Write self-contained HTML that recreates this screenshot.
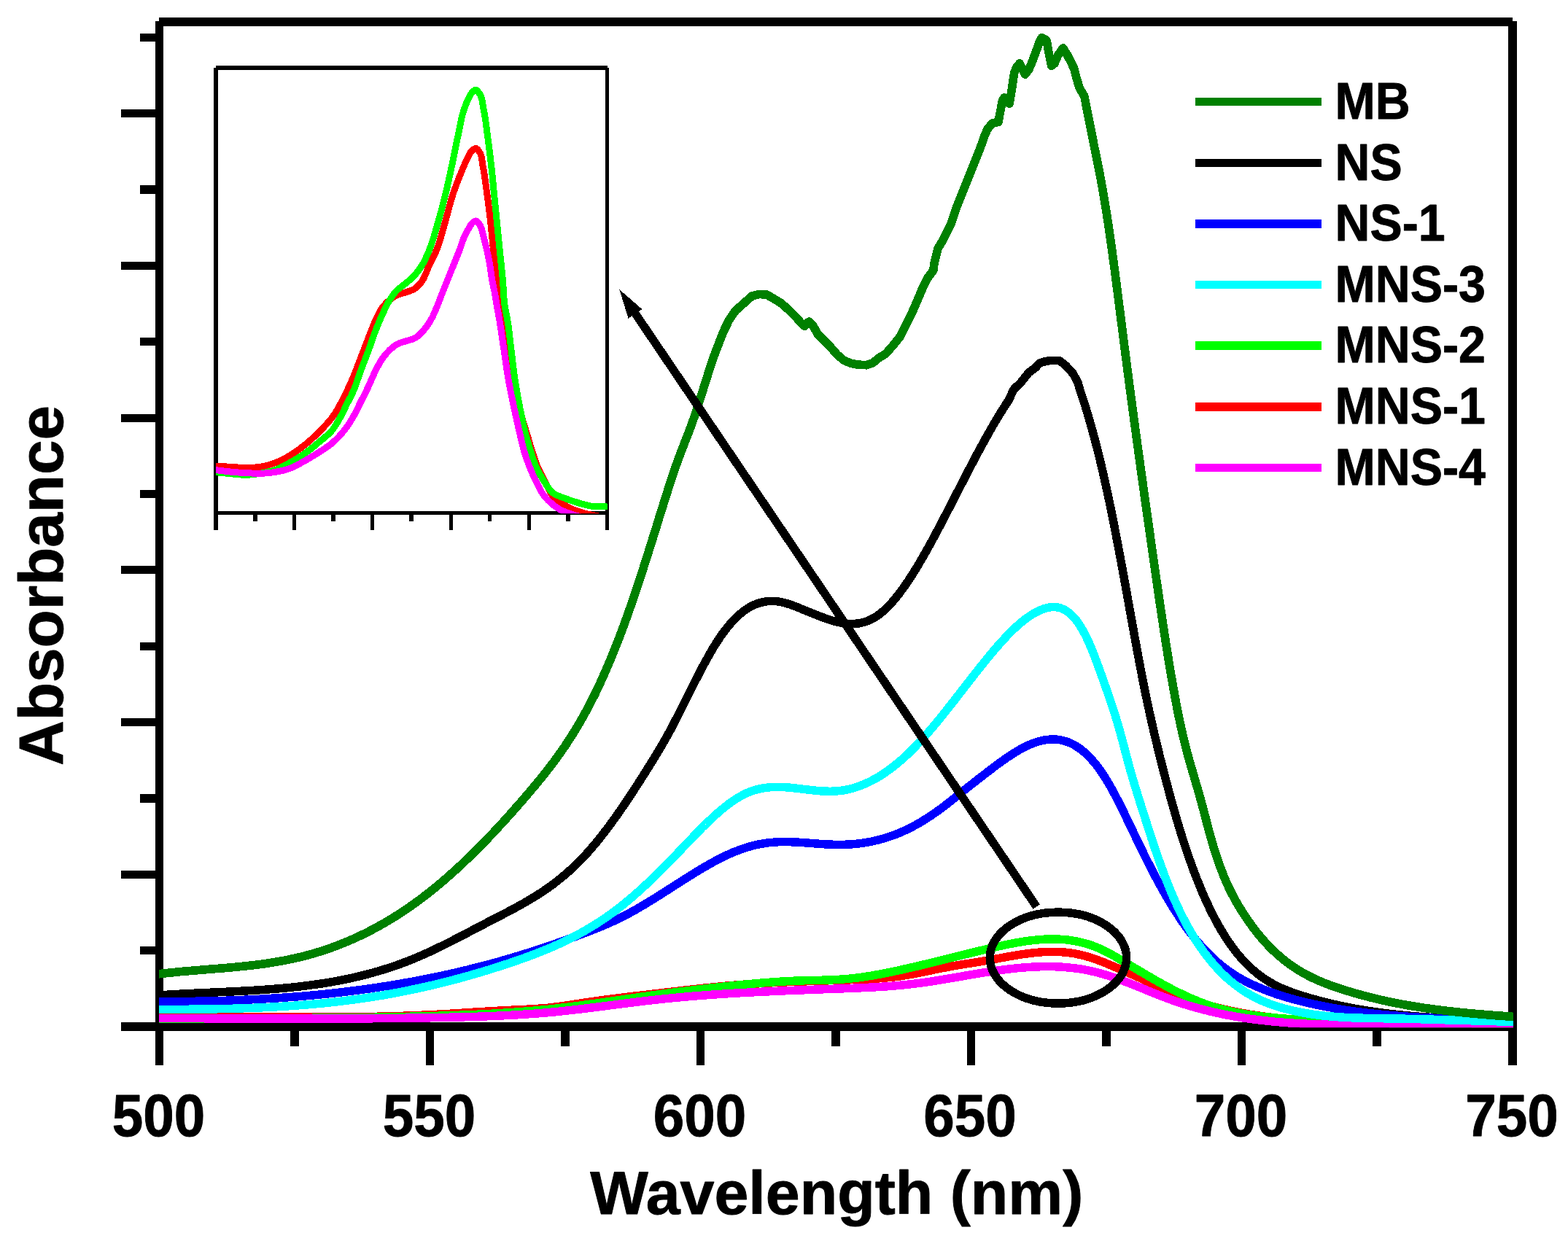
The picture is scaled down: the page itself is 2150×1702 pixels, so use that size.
<!DOCTYPE html>
<html lang="en">
<head>
<meta charset="utf-8">
<title>Absorbance vs Wavelength</title>
<style>
html,body{margin:0;padding:0;background:#fff;}
body{width:2150px;height:1702px;overflow:hidden;}
svg{display:block;}
text{font-family:"Liberation Sans",Arial,Helvetica,sans-serif;font-weight:bold;fill:#000;}
.tick{font-size:81.5px;text-anchor:middle;}
.leg{font-size:69.6px;}
.title{font-size:84px;text-anchor:middle;}
.ytitle{font-size:85.5px;text-anchor:middle;}
.c{fill:none;stroke-linejoin:round;stroke-linecap:butt;}
</style>
</head>
<body>
<svg xmlns="http://www.w3.org/2000/svg" width="2150" height="1702" viewBox="0 0 2150 1702">
<rect width="2150" height="1702" fill="#fff"/>

<g id="frame" fill="#000" shape-rendering="crispEdges">
<rect x="213" y="29" width="11" height="1384.5"/>
<rect x="2068" y="29" width="12" height="1432"/>
<rect x="218" y="23.5" width="1856" height="12.5"/>
<rect x="166" y="1402" width="1914" height="11.700000000000045"/>
<rect x="192" y="45.6" width="21" height="11.199999999999996"/>
<rect x="166" y="150.1" width="47" height="11.0"/>
<rect x="192" y="254.3" width="21" height="11.199999999999989"/>
<rect x="166" y="358.8" width="47" height="11.0"/>
<rect x="192" y="463.1" width="21" height="11.199999999999989"/>
<rect x="166" y="567.6" width="47" height="11.0"/>
<rect x="192" y="671.8" width="21" height="11.200000000000045"/>
<rect x="166" y="776.3" width="47" height="11.0"/>
<rect x="192" y="880.6" width="21" height="11.199999999999932"/>
<rect x="166" y="985.0" width="47" height="11.0"/>
<rect x="192" y="1089.3" width="21" height="11.200000000000045"/>
<rect x="166" y="1193.8" width="47" height="11.0"/>
<rect x="192" y="1298.0" width="21" height="11.200000000000045"/>
<rect x="213.0" y="1413" width="11.0" height="48"/>
<rect x="584.0" y="1413" width="11.0" height="48"/>
<rect x="955.0" y="1413" width="11.0" height="48"/>
<rect x="1325.5" y="1413" width="11.0" height="48"/>
<rect x="1697.0" y="1413" width="11.0" height="48"/>
<rect x="397.5" y="1413" width="12.0" height="21.59999999999991"/>
<rect x="768.8" y="1413" width="12.0" height="21.59999999999991"/>
<rect x="1139.8" y="1413" width="12.0" height="21.59999999999991"/>
<rect x="1511" y="1413" width="12" height="21.59999999999991"/>
<rect x="1882" y="1413" width="12" height="21.59999999999991"/>
</g>
<defs><clipPath id="pc"><rect x="218" y="30" width="1857" height="1379.2"/></clipPath><clipPath id="ic"><rect x="296" y="91" width="537" height="613.2"/></clipPath></defs>
<g id="curves" clip-path="url(#pc)" shape-rendering="crispEdges">
<path class="c" d="M210,1365.6C213,1365.4 216,1365.1 219,1364.9C222,1364.7 225,1364.5 228,1364.3C230.9,1364.1 233.9,1364 236.9,1363.8C239.9,1363.6 242.9,1363.5 245.9,1363.3C248.9,1363.1 251.9,1363 254.9,1362.8C257.9,1362.7 260.9,1362.5 263.9,1362.4C266.9,1362.2 269.9,1362.1 272.9,1362C275.9,1361.8 278.9,1361.7 281.9,1361.5C284.9,1361.4 287.9,1361.3 290.9,1361.1C293.9,1361 296.9,1360.9 299.9,1360.7C302.9,1360.6 305.9,1360.5 308.8,1360.3C311.8,1360.2 314.8,1360 317.8,1359.9C320.8,1359.8 323.8,1359.6 326.8,1359.4C329.8,1359.3 332.8,1359.1 335.8,1359C338.8,1358.8 341.8,1358.6 344.8,1358.5C347.8,1358.3 350.8,1358.1 353.8,1357.9C356.8,1357.7 359.8,1357.5 362.8,1357.3C365.8,1357.1 368.8,1356.9 371.7,1356.6C374.7,1356.4 377.7,1356.2 380.7,1355.9C383.7,1355.7 386.7,1355.4 389.7,1355.1C392.7,1354.8 395.7,1354.6 398.7,1354.3C401.6,1353.9 404.6,1353.6 407.6,1353.3C410.6,1353 413.6,1352.6 416.5,1352.3C419.5,1351.9 422.5,1351.5 425.5,1351.1C428.5,1350.7 431.4,1350.3 434.4,1349.9C437.4,1349.5 440.3,1349 443.3,1348.6C446.3,1348.1 449.2,1347.6 452.2,1347.1C455.2,1346.6 458.1,1346.1 461.1,1345.5C464,1345 467,1344.4 469.9,1343.8C472.9,1343.2 475.8,1342.6 478.8,1342C481.7,1341.4 484.6,1340.7 487.6,1340C490.5,1339.4 493.4,1338.7 496.3,1337.9C499.2,1337.2 502.2,1336.5 505.1,1335.7C508,1334.9 510.9,1334.1 513.8,1333.3C516.7,1332.5 519.5,1331.7 522.4,1330.8C525.3,1329.9 528.2,1329 531,1328.1C533.9,1327.2 536.8,1326.2 539.6,1325.3C542.4,1324.3 545.3,1323.3 548.1,1322.3C550.9,1321.2 553.8,1320.2 556.6,1319.1C559.4,1318 562.2,1316.9 565,1315.8C567.8,1314.7 570.6,1313.5 573.3,1312.3C576.1,1311.2 578.9,1310 581.6,1308.7C584.4,1307.5 587.1,1306.2 589.8,1305C592.6,1303.7 595.3,1302.4 598,1301.1C600.7,1299.8 603.4,1298.5 606.1,1297.2C608.8,1295.9 611.5,1294.5 614.2,1293.2C616.9,1291.8 619.5,1290.5 622.2,1289.1C624.9,1287.7 627.6,1286.4 630.2,1285C632.9,1283.6 635.6,1282.2 638.2,1280.8C640.9,1279.4 643.6,1278 646.2,1276.6C648.9,1275.2 651.5,1273.9 654.2,1272.5C656.8,1271.1 659.5,1269.7 662.2,1268.3C664.8,1266.9 667.5,1265.5 670.1,1264.1C672.8,1262.8 675.5,1261.4 678.1,1260C680.8,1258.6 683.5,1257.3 686.1,1255.9C688.8,1254.5 691.5,1253.1 694.1,1251.7C696.8,1250.3 699.4,1248.9 702.1,1247.5C704.7,1246.1 707.4,1244.7 710,1243.2C712.7,1241.8 715.3,1240.3 717.9,1238.8C720.5,1237.3 723.1,1235.8 725.7,1234.3C728.3,1232.7 730.9,1231.2 733.5,1229.6C736,1228 738.6,1226.3 741.1,1224.7C743.7,1223 746.2,1221.4 748.7,1219.6C751.1,1217.9 753.6,1216.2 756.1,1214.4C758.5,1212.6 760.9,1210.8 763.3,1208.9C765.7,1207 768.1,1205.1 770.4,1203.2C772.8,1201.3 775.1,1199.3 777.4,1197.3C779.7,1195.3 781.9,1193.3 784.2,1191.2C786.4,1189.2 788.6,1187.1 790.8,1184.9C792.9,1182.8 795.1,1180.7 797.2,1178.5C799.3,1176.3 801.4,1174.1 803.4,1171.8C805.5,1169.6 807.5,1167.3 809.5,1165C811.5,1162.7 813.5,1160.4 815.4,1158.1C817.4,1155.7 819.3,1153.4 821.2,1151C823.1,1148.7 825,1146.3 826.8,1143.9C828.7,1141.5 830.5,1139.1 832.4,1136.7C834.2,1134.2 836,1131.8 837.8,1129.4C839.6,1126.9 841.3,1124.5 843.1,1122C844.9,1119.6 846.6,1117.1 848.3,1114.6C850.1,1112.1 851.8,1109.7 853.5,1107.2C855.2,1104.7 856.9,1102.2 858.6,1099.7C860.3,1097.2 861.9,1094.7 863.6,1092.2C865.3,1089.6 866.9,1087.1 868.6,1084.6C870.2,1082.1 871.9,1079.5 873.5,1077C875.1,1074.5 876.8,1071.9 878.4,1069.4C880,1066.9 881.6,1064.3 883.2,1061.8C884.8,1059.2 886.4,1056.7 888,1054.1C889.6,1051.6 891.2,1049 892.8,1046.5C894.4,1043.9 896,1041.3 897.5,1038.8C899.1,1036.2 900.7,1033.6 902.2,1031C903.8,1028.4 905.3,1025.8 906.9,1023.2C908.4,1020.6 909.9,1018 911.4,1015.3C912.9,1012.7 914.4,1010.1 915.9,1007.4C917.3,1004.7 918.8,1002.1 920.2,999.4C921.7,996.7 923.1,994 924.5,991.3C925.8,988.6 927.2,985.9 928.6,983.3C930,980.6 931.3,977.9 932.7,975.2C934,972.5 935.4,969.8 936.7,967.1C938.1,964.4 939.4,961.7 940.7,959C942.1,956.4 943.4,953.7 944.8,951C946.1,948.3 947.4,945.6 948.8,943C950.1,940.3 951.5,937.6 952.8,935C954.2,932.3 955.5,929.6 956.9,927C958.3,924.3 959.6,921.7 961,919.1C962.4,916.4 963.8,913.8 965.2,911.2C966.6,908.6 968,906 969.5,903.4C970.9,900.8 972.3,898.2 973.8,895.7C975.3,893.1 976.8,890.6 978.3,888C979.8,885.5 981.4,883 983,880.6C984.6,878.1 986.2,875.6 987.8,873.2C989.5,870.8 991.2,868.4 992.9,866.1C994.7,863.8 996.5,861.5 998.3,859.2C1000.2,857 1002.1,854.8 1004,852.6C1006,850.5 1008,848.4 1010.1,846.4C1012.2,844.4 1014.3,842.4 1016.6,840.6C1018.8,838.8 1021.1,837 1023.6,835.4C1026,833.8 1028.5,832.3 1031,831C1033.6,829.7 1036.3,828.6 1039.1,827.6C1041.8,826.7 1044.7,825.9 1047.6,825.4C1050.5,824.9 1053.5,824.5 1056.4,824.4C1059.4,824.3 1062.4,824.5 1065.4,824.8C1068.4,825.1 1071.4,825.7 1074.4,826.4C1077.3,827.1 1080.2,828 1083.1,828.9C1086,829.9 1088.8,831 1091.6,832.1C1094.4,833.2 1097.2,834.4 1100,835.5C1102.8,836.7 1105.5,837.8 1108.3,838.9C1111.1,840.1 1113.9,841.2 1116.7,842.3C1119.4,843.4 1122.2,844.5 1125,845.6C1127.8,846.6 1130.6,847.7 1133.4,848.7C1136.2,849.6 1139.1,850.6 1141.9,851.4C1144.8,852.2 1147.7,853 1150.6,853.6C1153.5,854.2 1156.4,854.7 1159.4,855.1C1162.3,855.4 1165.3,855.6 1168.3,855.6C1171.3,855.5 1174.3,855.3 1177.3,854.9C1180.3,854.4 1183.3,853.7 1186.2,852.8C1189.1,851.9 1192,850.7 1194.8,849.3C1197.6,847.9 1200.3,846.3 1202.8,844.6C1205.4,842.8 1207.9,840.9 1210.3,838.8C1212.6,836.8 1214.9,834.7 1217.1,832.5C1219.3,830.3 1221.4,828 1223.4,825.7C1225.5,823.4 1227.5,821 1229.4,818.6C1231.3,816.2 1233.2,813.8 1235,811.3C1236.9,808.8 1238.7,806.4 1240.4,803.8C1242.2,801.3 1243.9,798.8 1245.6,796.3C1247.3,793.7 1248.9,791.2 1250.6,788.6C1252.2,786 1253.8,783.5 1255.4,780.9C1257,778.3 1258.5,775.7 1260.1,773.1C1261.6,770.5 1263.2,767.8 1264.7,765.2C1266.2,762.6 1267.7,760 1269.2,757.3C1270.7,754.7 1272.1,752.1 1273.6,749.4C1275.1,746.8 1276.5,744.1 1278,741.5C1279.4,738.8 1280.8,736.2 1282.3,733.5C1283.7,730.8 1285.1,728.2 1286.5,725.5C1287.9,722.9 1289.3,720.2 1290.7,717.5C1292.1,714.9 1293.5,712.2 1294.9,709.5C1296.3,706.8 1297.7,704.2 1299,701.5C1300.4,698.8 1301.8,696.2 1303.2,693.5C1304.6,690.8 1305.9,688.2 1307.3,685.5C1308.7,682.8 1310,680.1 1311.4,677.5C1312.8,674.8 1314.2,672.1 1315.5,669.5C1316.9,666.8 1318.3,664.1 1319.6,661.5C1321,658.8 1322.4,656.1 1323.8,653.5C1325.1,650.8 1326.5,648.2 1327.9,645.5C1329.3,642.9 1330.7,640.2 1332,637.6C1333.4,634.9 1334.8,632.3 1336.2,629.6C1337.6,627 1339,624.3 1340.4,621.7C1341.8,619.1 1343.2,616.4 1344.7,613.8C1346.1,611.2 1347.5,608.6 1348.9,606C1350.4,603.3 1351.8,600.7 1353.3,598.1C1354.7,595.5 1356.2,592.9 1357.7,590.3C1359.1,587.8 1360.6,585.2 1362.1,582.6C1363.6,580 1365.1,577.5 1366.7,574.9C1368.2,572.4 1369.7,569.9 1371.3,567.3C1372.8,564.8 1374.4,562.3 1376,559.8C1377.6,557.3 1379.2,554.8 1380.8,552.3C1381.5,551.3 1382.2,550.3 1382.9,549.2C1386,544.4 1387,538.3 1390.4,533.7L1400.5,523.7L1410.5,511.1L1420.6,503.5L1425.5,498L1432,496L1439.5,494.6L1452.7,494.6L1457.5,498.2L1461.7,501.7L1467,507.5L1471.2,512.3L1475,519L1477.6,523.9C1479,527 1479.5,530.4 1480.5,533.7C1481.4,536.6 1482.4,539.4 1483.4,542.3C1484.3,545.2 1485.2,548.1 1486.2,551C1487.1,553.9 1488,556.8 1488.9,559.7C1489.8,562.6 1490.6,565.5 1491.5,568.4C1492.4,571.4 1493.2,574.3 1494.1,577.2C1494.9,580.1 1495.8,583 1496.6,586C1497.4,588.9 1498.2,591.8 1499,594.8C1499.8,597.7 1500.6,600.6 1501.4,603.6C1502.2,606.5 1502.9,609.5 1503.7,612.4C1504.4,615.3 1505.2,618.3 1505.9,621.2C1506.7,624.2 1507.4,627.1 1508.1,630.1C1508.8,633.1 1509.5,636 1510.2,639C1510.9,641.9 1511.6,644.9 1512.3,647.8C1513,650.8 1513.7,653.8 1514.3,656.7C1515,659.7 1515.6,662.6 1516.3,665.6C1516.9,668.6 1517.6,671.5 1518.2,674.5C1518.9,677.4 1519.5,680.4 1520.1,683.4C1520.7,686.3 1521.4,689.3 1522,692.3C1522.6,695.2 1523.2,698.2 1523.8,701.1C1524.4,704.1 1525,707.1 1525.6,710C1526.2,713 1526.8,716 1527.4,718.9C1528,721.9 1528.5,724.8 1529.1,727.8C1529.7,730.8 1530.3,733.7 1530.8,736.7C1531.4,739.7 1532,742.6 1532.5,745.6C1533.1,748.6 1533.7,751.5 1534.2,754.5C1534.8,757.5 1535.3,760.4 1535.9,763.4C1536.4,766.3 1537,769.3 1537.5,772.3C1538.1,775.2 1538.6,778.2 1539.2,781.2C1539.7,784.1 1540.2,787.1 1540.8,790C1541.3,793 1541.9,796 1542.4,798.9C1542.9,801.9 1543.5,804.8 1544,807.8C1544.5,810.7 1545.1,813.7 1545.6,816.7C1546.1,819.6 1546.7,822.6 1547.2,825.5C1547.7,828.5 1548.2,831.4 1548.8,834.4C1549.3,837.3 1549.8,840.3 1550.4,843.2C1550.9,846.2 1551.4,849.1 1552,852.1C1552.5,855 1553,858 1553.6,860.9C1554.1,863.9 1554.6,866.8 1555.2,869.8C1555.7,872.7 1556.2,875.6 1556.8,878.6C1557.3,881.5 1557.9,884.5 1558.4,887.4C1558.9,890.3 1559.5,893.3 1560,896.2C1560.6,899.2 1561.1,902.1 1561.7,905C1562.2,908 1562.8,910.9 1563.3,913.8C1563.9,916.7 1564.5,919.7 1565,922.6C1565.6,925.5 1566.2,928.4 1566.7,931.4C1567.3,934.3 1567.9,937.2 1568.5,940.1C1569.1,943 1569.6,945.9 1570.2,948.9C1570.8,951.8 1571.4,954.7 1572,957.6C1572.6,960.5 1573.2,963.4 1573.9,966.3C1574.5,969.2 1575.1,972.1 1575.7,975C1576.4,977.9 1577,980.8 1577.7,983.7C1578.3,986.6 1578.9,989.5 1579.6,992.4C1580.3,995.3 1580.9,998.2 1581.6,1001.1C1582.3,1004 1582.9,1006.9 1583.6,1009.8C1584.3,1012.7 1585,1015.6 1585.7,1018.5C1586.4,1021.3 1587.1,1024.2 1587.8,1027.1C1588.5,1030 1589.2,1032.9 1589.9,1035.8C1590.6,1038.7 1591.4,1041.6 1592.1,1044.5C1592.8,1047.4 1593.6,1050.3 1594.3,1053.1C1595,1056 1595.8,1058.9 1596.5,1061.8C1597.3,1064.7 1598,1067.6 1598.8,1070.4C1599.5,1073.3 1600.3,1076.2 1601.1,1079.1C1601.8,1082 1602.6,1084.8 1603.4,1087.7C1604.2,1090.6 1604.9,1093.5 1605.7,1096.3C1606.5,1099.2 1607.3,1102.1 1608.1,1104.9C1608.9,1107.8 1609.8,1110.6 1610.6,1113.5C1611.4,1116.4 1612.2,1119.2 1613.1,1122.1C1613.9,1124.9 1614.7,1127.8 1615.6,1130.6C1616.4,1133.4 1617.3,1136.3 1618.2,1139.1C1619,1141.9 1619.9,1144.8 1620.8,1147.6C1621.7,1150.4 1622.6,1153.3 1623.5,1156.1C1624.4,1158.9 1625.4,1161.7 1626.3,1164.5C1627.2,1167.3 1628.2,1170.1 1629.1,1172.9C1630.1,1175.7 1631.1,1178.5 1632.1,1181.3C1633.1,1184.1 1634.1,1186.9 1635.1,1189.6C1636.1,1192.4 1637.1,1195.2 1638.2,1197.9C1639.2,1200.7 1640.3,1203.5 1641.4,1206.2C1642.5,1209 1643.6,1211.7 1644.7,1214.4C1645.8,1217.2 1646.9,1219.9 1648.1,1222.6C1649.2,1225.3 1650.4,1228 1651.6,1230.7C1652.8,1233.4 1654,1236.1 1655.3,1238.8C1656.5,1241.4 1657.8,1244.1 1659,1246.7C1660.3,1249.4 1661.6,1252 1663,1254.6C1664.3,1257.3 1665.7,1259.9 1667.1,1262.5C1668.4,1265 1669.9,1267.6 1671.3,1270.2C1672.8,1272.7 1674.2,1275.3 1675.8,1277.8C1677.3,1280.3 1678.8,1282.8 1680.4,1285.2C1682,1287.7 1683.6,1290.2 1685.3,1292.6C1686.9,1295 1688.6,1297.4 1690.4,1299.7C1692.1,1302.1 1693.9,1304.4 1695.7,1306.7C1697.5,1309 1699.4,1311.2 1701.3,1313.4C1703.3,1315.6 1705.2,1317.8 1707.2,1319.9C1709.3,1322 1711.3,1324.1 1713.5,1326.1C1715.6,1328.1 1717.8,1330.1 1720,1331.9C1722.2,1333.8 1724.5,1335.7 1726.9,1337.4C1729.2,1339.2 1731.6,1340.9 1734,1342.5C1736.5,1344.2 1739,1345.7 1741.5,1347.2C1744.1,1348.7 1746.7,1350.1 1749.3,1351.5C1751.9,1352.8 1754.6,1354.1 1757.3,1355.3C1760,1356.5 1762.8,1357.6 1765.5,1358.7C1768.3,1359.8 1771.1,1360.8 1773.9,1361.8C1776.7,1362.8 1779.6,1363.7 1782.4,1364.7C1785.3,1365.6 1788.1,1366.4 1791,1367.3C1793.9,1368.2 1796.7,1369 1799.6,1369.8C1802.5,1370.6 1805.4,1371.4 1808.3,1372.2C1811.2,1373 1814.1,1373.7 1817,1374.4C1819.9,1375.2 1822.8,1375.9 1825.7,1376.6C1828.6,1377.2 1831.5,1377.9 1834.5,1378.6C1837.4,1379.2 1840.3,1379.8 1843.3,1380.4C1846.2,1381 1849.1,1381.6 1852.1,1382.2C1855,1382.7 1858,1383.3 1860.9,1383.8C1863.9,1384.3 1866.8,1384.8 1869.8,1385.3C1872.7,1385.8 1875.7,1386.2 1878.7,1386.7C1881.6,1387.1 1884.6,1387.6 1887.6,1388C1890.5,1388.4 1893.5,1388.8 1896.5,1389.2C1899.4,1389.6 1902.4,1389.9 1905.4,1390.3C1908.4,1390.7 1911.3,1391 1914.3,1391.3C1917.3,1391.6 1920.3,1391.9 1923.3,1392.2C1926.3,1392.5 1929.2,1392.8 1932.2,1393.1C1935.2,1393.4 1938.2,1393.6 1941.2,1393.9C1944.2,1394.1 1947.2,1394.4 1950.2,1394.6C1953.2,1394.8 1956.1,1395 1959.1,1395.2C1962.1,1395.4 1965.1,1395.6 1968.1,1395.8C1971.1,1396 1974.1,1396.2 1977.1,1396.4C1980.1,1396.5 1983.1,1396.7 1986.1,1396.9C1989.1,1397 1992.1,1397.2 1995.1,1397.3C1998.1,1397.5 2001.1,1397.6 2004.1,1397.7C2007.1,1397.9 2010.1,1398 2013.1,1398.1C2016,1398.3 2019,1398.4 2022,1398.5C2025,1398.6 2028,1398.7 2031,1398.9C2034,1399 2037,1399.1 2040,1399.2C2043,1399.3 2046,1399.4 2049,1399.5C2052,1399.6 2055,1399.7 2058,1399.9C2061,1400 2064,1400.1 2067,1400.2C2070,1400.3 2073,1400.4 2076,1400.6C2079,1400.7 2082,1400.8 2085,1400.9C2085,1400.9 2085,1400.9 2085,1400.9" stroke="#000" stroke-width="11.5"/>
<path class="c" d="M210,1373.6C213,1373.6 216,1373.6 219,1373.6C222,1373.6 225,1373.6 228,1373.6C231,1373.6 234,1373.6 237,1373.6C240,1373.6 243,1373.5 246,1373.5C249,1373.5 252,1373.5 255,1373.4C258,1373.4 261,1373.4 264,1373.3C267,1373.3 270,1373.2 273,1373.2C276,1373.1 279,1373.1 282,1373C285,1372.9 288,1372.9 291,1372.8C294,1372.7 297,1372.6 300,1372.6C303,1372.5 306,1372.4 309,1372.3C312,1372.2 315,1372.1 318,1372C321,1371.9 324,1371.8 327,1371.6C330,1371.5 333,1371.4 336,1371.2C339,1371.1 342,1371 345,1370.8C348,1370.7 351,1370.5 354,1370.4C356.9,1370.2 359.9,1370 362.9,1369.9C365.9,1369.7 368.9,1369.5 371.9,1369.3C374.9,1369.1 377.9,1369 380.9,1368.8C383.9,1368.6 386.9,1368.3 389.9,1368.1C392.9,1367.9 395.9,1367.7 398.9,1367.5C401.9,1367.2 404.8,1367 407.8,1366.8C410.8,1366.5 413.8,1366.3 416.8,1366C419.8,1365.7 422.8,1365.5 425.8,1365.2C428.8,1364.9 431.7,1364.6 434.7,1364.4C437.7,1364.1 440.7,1363.8 443.7,1363.5C446.7,1363.2 449.7,1362.9 452.6,1362.5C455.6,1362.2 458.6,1361.9 461.6,1361.5C464.6,1361.2 467.6,1360.9 470.5,1360.5C473.5,1360.2 476.5,1359.8 479.5,1359.4C482.5,1359 485.4,1358.7 488.4,1358.3C491.4,1357.9 494.4,1357.5 497.3,1357.1C500.3,1356.7 503.3,1356.3 506.2,1355.9C509.2,1355.4 512.2,1355 515.2,1354.6C518.1,1354.1 521.1,1353.7 524.1,1353.2C527,1352.8 530,1352.3 533,1351.8C535.9,1351.3 538.9,1350.8 541.8,1350.4C544.8,1349.9 547.8,1349.4 550.7,1348.8C553.7,1348.3 556.6,1347.8 559.6,1347.3C562.5,1346.7 565.5,1346.2 568.4,1345.7C571.4,1345.1 574.3,1344.5 577.3,1344C580.2,1343.4 583.2,1342.8 586.1,1342.2C589.1,1341.6 592,1341 595,1340.4C597.9,1339.8 600.8,1339.2 603.8,1338.6C606.7,1338 609.6,1337.3 612.6,1336.7C615.5,1336 618.4,1335.4 621.4,1334.7C624.3,1334 627.2,1333.4 630.1,1332.7C633.1,1332 636,1331.3 638.9,1330.6C641.8,1329.9 644.7,1329.1 647.6,1328.4C650.6,1327.7 653.5,1326.9 656.4,1326.2C659.3,1325.4 662.2,1324.7 665.1,1323.9C668,1323.2 670.9,1322.4 673.8,1321.6C676.7,1320.8 679.6,1320 682.5,1319.2C685.4,1318.4 688.2,1317.5 691.1,1316.7C694,1315.9 696.9,1315 699.8,1314.2C702.7,1313.3 705.5,1312.5 708.4,1311.6C711.3,1310.7 714.2,1309.8 717,1309C719.9,1308.1 722.8,1307.2 725.6,1306.2C728.5,1305.3 731.3,1304.4 734.2,1303.5C737,1302.5 739.9,1301.6 742.7,1300.7C745.6,1299.7 748.4,1298.7 751.3,1297.8C754.1,1296.8 757,1295.8 759.8,1294.8C762.6,1293.9 765.5,1292.9 768.3,1291.9C771.1,1290.9 774,1289.8 776.8,1288.8C779.6,1287.8 782.4,1286.8 785.2,1285.7C788.1,1284.7 790.9,1283.7 793.7,1282.6C796.5,1281.6 799.3,1280.5 802.1,1279.4C804.9,1278.4 807.7,1277.3 810.5,1276.2C813.3,1275.1 816.1,1274 818.9,1272.9C821.7,1271.7 824.5,1270.6 827.3,1269.4C830,1268.3 832.8,1267.1 835.6,1265.8C838.3,1264.6 841.1,1263.4 843.8,1262.1C846.5,1260.8 849.2,1259.5 851.9,1258.1C854.6,1256.8 857.3,1255.4 860,1254C862.6,1252.6 865.3,1251.1 867.9,1249.6C870.6,1248.2 873.2,1246.7 875.8,1245.2C878.4,1243.6 881,1242.1 883.6,1240.6C886.1,1239 888.7,1237.5 891.3,1235.9C893.9,1234.3 896.4,1232.7 899,1231.1C901.5,1229.5 904.1,1227.9 906.6,1226.3C909.1,1224.7 911.7,1223.1 914.2,1221.5C916.7,1219.9 919.2,1218.3 921.8,1216.6C924.3,1215 926.8,1213.4 929.4,1211.8C931.9,1210.2 934.4,1208.6 936.9,1207C939.5,1205.3 942,1203.7 944.5,1202.2C947.1,1200.6 949.6,1199 952.2,1197.4C954.7,1195.9 957.3,1194.3 959.8,1192.8C962.4,1191.2 965,1189.7 967.5,1188.2C970.1,1186.7 972.7,1185.2 975.3,1183.8C977.9,1182.3 980.6,1180.9 983.2,1179.5C985.8,1178.1 988.5,1176.8 991.2,1175.5C993.8,1174.1 996.5,1172.9 999.2,1171.6C1001.9,1170.4 1004.7,1169.2 1007.4,1168.1C1010.2,1167 1013,1166 1015.8,1165C1018.6,1164 1021.4,1163 1024.3,1162.1C1027.1,1161.3 1030,1160.4 1032.9,1159.7C1035.7,1159 1038.7,1158.3 1041.6,1157.7C1044.5,1157.2 1047.5,1156.7 1050.4,1156.2C1053.4,1155.8 1056.3,1155.5 1059.3,1155.3C1062.3,1155 1065.3,1154.8 1068.3,1154.7C1071.3,1154.6 1074.3,1154.6 1077.3,1154.6C1080.3,1154.6 1083.3,1154.7 1086.3,1154.8C1089.3,1154.9 1092.3,1155.1 1095.3,1155.2C1098.3,1155.4 1101.3,1155.6 1104.3,1155.8C1107.3,1156 1110.3,1156.3 1113.2,1156.5C1116.2,1156.7 1119.2,1157 1122.2,1157.2C1125.2,1157.4 1128.2,1157.6 1131.2,1157.8C1134.2,1157.9 1137.2,1158.1 1140.2,1158.2C1143.2,1158.3 1146.2,1158.4 1149.2,1158.4C1152.2,1158.4 1155.2,1158.4 1158.2,1158.3C1161.2,1158.2 1164.2,1158.1 1167.2,1157.9C1170.2,1157.7 1173.2,1157.4 1176.1,1157C1179.1,1156.7 1182.1,1156.3 1185.1,1155.9C1188.1,1155.4 1191,1154.9 1194,1154.3C1196.9,1153.7 1199.9,1153 1202.8,1152.3C1205.7,1151.6 1208.7,1150.8 1211.5,1150C1214.4,1149.1 1217.3,1148.2 1220.2,1147.2C1223,1146.2 1225.9,1145.2 1228.7,1144.1C1231.5,1143 1234.3,1141.8 1237.1,1140.6C1239.9,1139.4 1242.6,1138.1 1245.3,1136.8C1248,1135.5 1250.7,1134.1 1253.4,1132.6C1256.1,1131.2 1258.7,1129.7 1261.3,1128.2C1263.9,1126.6 1266.5,1125 1269.1,1123.4C1271.6,1121.8 1274.2,1120.1 1276.7,1118.5C1279.2,1116.8 1281.7,1115 1284.2,1113.3C1286.6,1111.5 1289.1,1109.8 1291.5,1108C1293.9,1106.2 1296.3,1104.3 1298.7,1102.5C1301.1,1100.6 1303.5,1098.8 1305.8,1096.9C1308.2,1095 1310.5,1093.1 1312.9,1091.2C1315.2,1089.3 1317.5,1087.4 1319.9,1085.6C1322.2,1083.7 1324.5,1081.8 1326.9,1079.9C1329.2,1078.1 1331.5,1076.2 1333.9,1074.4C1336.3,1072.5 1338.6,1070.7 1341,1068.8C1343.4,1067 1345.7,1065.2 1348.1,1063.4C1350.5,1061.5 1352.8,1059.7 1355.2,1057.9C1357.6,1056.1 1360,1054.2 1362.4,1052.4C1364.8,1050.6 1367.1,1048.8 1369.6,1047.1C1372,1045.3 1374.4,1043.6 1376.8,1041.8C1379.2,1040.1 1381.7,1038.4 1384.2,1036.8C1386.6,1035.2 1389.1,1033.5 1391.6,1032C1394.2,1030.4 1396.7,1028.9 1399.3,1027.5C1401.9,1026.1 1404.5,1024.7 1407.2,1023.4C1409.8,1022.1 1412.5,1020.9 1415.3,1019.9C1418,1018.8 1420.8,1017.8 1423.7,1017C1426.5,1016.2 1429.4,1015.5 1432.3,1015C1435.2,1014.5 1438.2,1014.1 1441.2,1014C1444.2,1013.9 1447.2,1014 1450.2,1014.3C1453.2,1014.7 1456.2,1015.3 1459.1,1016.1C1462.1,1016.9 1465,1018 1467.8,1019.2C1470.6,1020.5 1473.4,1022 1476,1023.6C1478.6,1025.3 1481.2,1027.1 1483.6,1029C1486.1,1031 1488.4,1033.1 1490.7,1035.2C1492.9,1037.4 1495.1,1039.6 1497.2,1042C1499.2,1044.3 1501.2,1046.7 1503.2,1049.1C1505.1,1051.6 1506.9,1054.1 1508.7,1056.6C1510.5,1059.1 1512.2,1061.7 1513.9,1064.3C1515.6,1066.9 1517.2,1069.6 1518.8,1072.2C1520.4,1074.8 1521.9,1077.5 1523.4,1080.2C1524.9,1082.8 1526.3,1085.5 1527.8,1088.2C1529.2,1090.9 1530.6,1093.6 1532,1096.3C1533.4,1099 1534.8,1101.7 1536.1,1104.4C1537.5,1107.1 1538.8,1109.9 1540.2,1112.6C1541.5,1115.3 1542.8,1118 1544.1,1120.7C1545.4,1123.4 1546.7,1126.1 1548,1128.9C1549.3,1131.6 1550.6,1134.3 1551.9,1137C1553.2,1139.7 1554.5,1142.4 1555.8,1145.1C1557.1,1147.8 1558.4,1150.5 1559.7,1153.2C1561,1155.9 1562.3,1158.6 1563.6,1161.3C1564.9,1164 1566.2,1166.7 1567.5,1169.3C1568.8,1172 1570.1,1174.7 1571.5,1177.4C1572.8,1180 1574.1,1182.7 1575.5,1185.3C1576.8,1188 1578.2,1190.6 1579.6,1193.3C1580.9,1195.9 1582.3,1198.6 1583.7,1201.2C1585.1,1203.8 1586.5,1206.4 1587.9,1209.1C1589.3,1211.7 1590.8,1214.3 1592.2,1216.9C1593.7,1219.5 1595.1,1222.1 1596.6,1224.6C1598,1227.2 1599.5,1229.8 1601,1232.4C1602.5,1234.9 1604.1,1237.5 1605.6,1240C1607.1,1242.5 1608.7,1245 1610.3,1247.6C1611.8,1250.1 1613.4,1252.5 1615.1,1255C1616.7,1257.5 1618.3,1260 1620,1262.4C1621.6,1264.8 1623.3,1267.3 1625.1,1269.7C1626.8,1272.1 1628.5,1274.4 1630.3,1276.8C1632.1,1279.2 1633.9,1281.5 1635.7,1283.8C1637.5,1286.1 1639.4,1288.4 1641.3,1290.7C1643.2,1292.9 1645.1,1295.2 1647.1,1297.4C1649,1299.6 1651,1301.8 1653,1303.9C1655.1,1306 1657.1,1308.1 1659.2,1310.2C1661.3,1312.3 1663.5,1314.3 1665.6,1316.3C1667.8,1318.3 1670,1320.2 1672.3,1322.1C1674.5,1324 1676.8,1325.8 1679.2,1327.6C1681.5,1329.4 1683.9,1331.2 1686.3,1332.8C1688.8,1334.5 1691.2,1336.1 1693.7,1337.7C1696.2,1339.3 1698.8,1340.8 1701.4,1342.3C1703.9,1343.7 1706.6,1345.1 1709.2,1346.5C1711.8,1347.8 1714.5,1349.1 1717.2,1350.4C1719.9,1351.6 1722.6,1352.8 1725.4,1354C1728.1,1355.1 1730.9,1356.3 1733.7,1357.4C1736.4,1358.5 1739.2,1359.5 1742,1360.5C1744.9,1361.5 1747.7,1362.5 1750.5,1363.5C1753.3,1364.4 1756.2,1365.3 1759,1366.2C1761.9,1367.1 1764.8,1367.9 1767.6,1368.8C1770.5,1369.6 1773.4,1370.4 1776.3,1371.2C1779.2,1371.9 1782.1,1372.7 1785,1373.4C1787.9,1374.1 1790.8,1374.8 1793.7,1375.5C1796.6,1376.2 1799.6,1376.8 1802.5,1377.5C1805.4,1378.1 1808.3,1378.7 1811.3,1379.3C1814.2,1379.9 1817.2,1380.5 1820.1,1381C1823,1381.6 1826,1382.1 1828.9,1382.6C1831.9,1383.2 1834.9,1383.7 1837.8,1384.1C1840.8,1384.6 1843.7,1385.1 1846.7,1385.5C1849.7,1386 1852.6,1386.4 1855.6,1386.8C1858.6,1387.2 1861.5,1387.6 1864.5,1388C1867.5,1388.4 1870.5,1388.8 1873.4,1389.1C1876.4,1389.5 1879.4,1389.8 1882.4,1390.1C1885.4,1390.4 1888.3,1390.7 1891.3,1391C1894.3,1391.3 1897.3,1391.6 1900.3,1391.9C1903.3,1392.2 1906.3,1392.4 1909.2,1392.7C1912.2,1392.9 1915.2,1393.2 1918.2,1393.4C1921.2,1393.6 1924.2,1393.8 1927.2,1394C1930.2,1394.2 1933.2,1394.4 1936.2,1394.6C1939.2,1394.8 1942.2,1395 1945.1,1395.2C1948.1,1395.4 1951.1,1395.5 1954.1,1395.7C1957.1,1395.9 1960.1,1396 1963.1,1396.2C1966.1,1396.3 1969.1,1396.5 1972.1,1396.6C1975.1,1396.8 1978.1,1396.9 1981.1,1397C1984.1,1397.2 1987.1,1397.3 1990.1,1397.4C1993.1,1397.6 1996.1,1397.7 1999.1,1397.8C2002.1,1397.9 2005.1,1398.1 2008.1,1398.2C2011.1,1398.3 2014.1,1398.5 2017.1,1398.6C2020.1,1398.7 2023.1,1398.8 2026.1,1399C2029.1,1399.1 2032,1399.2 2035,1399.4C2038,1399.5 2041,1399.6 2044,1399.8C2047,1399.9 2050,1400.1 2053,1400.2C2056,1400.4 2059,1400.5 2062,1400.7C2065,1400.9 2068,1401 2071,1401.2C2074,1401.4 2077,1401.5 2080,1401.7C2081.7,1401.8 2083.3,1402 2085,1402.1" stroke="#0000FF" stroke-width="11.5"/>
<path class="c" d="M210,1396.1C213,1396 216,1396 219,1395.9C222,1395.8 225,1395.8 228,1395.7C231,1395.7 234,1395.6 237,1395.6C240,1395.6 243,1395.5 246,1395.5C249,1395.5 252,1395.4 255,1395.4C258,1395.4 261,1395.3 264,1395.3C267,1395.3 270,1395.3 273,1395.3C276,1395.2 279,1395.2 282,1395.2C285,1395.2 288,1395.2 291,1395.2C294,1395.2 297,1395.2 300,1395.1C303,1395.1 306,1395.1 309,1395.1C312,1395.1 315,1395.1 318,1395.1C321,1395.1 324,1395.1 327,1395.1C330,1395.1 333,1395.1 336,1395.1C339,1395.1 342,1395.1 345,1395.1C348,1395.1 351,1395.2 354,1395.2C357,1395.2 360,1395.2 363,1395.2C366,1395.2 369,1395.2 372,1395.2C375,1395.2 378,1395.2 381,1395.2C384,1395.2 387,1395.2 390,1395.2C393,1395.2 396,1395.2 399,1395.2C402,1395.2 405,1395.2 408,1395.2C411,1395.2 414,1395.2 417,1395.2C420,1395.2 423,1395.2 426,1395.2C429,1395.2 432,1395.2 435,1395.2C438,1395.2 441,1395.2 444,1395.1C447,1395.1 450,1395.1 453,1395.1C456,1395.1 459,1395 462,1395C465,1395 468,1395 471,1394.9C474,1394.9 477,1394.9 480,1394.8C483,1394.8 486,1394.8 489,1394.7C492,1394.7 495,1394.6 498,1394.6C501,1394.5 504,1394.5 507,1394.4C510,1394.4 513,1394.3 516,1394.3C519,1394.2 522,1394.1 525,1394C528,1394 531,1393.9 534,1393.8C537,1393.7 540,1393.6 543,1393.6C546,1393.5 549,1393.4 552,1393.3C555,1393.2 558,1393.1 561,1393C564,1392.8 567,1392.7 570,1392.6C573,1392.5 576,1392.4 579,1392.2C582,1392.1 585,1392 587.9,1391.8C590.9,1391.7 593.9,1391.5 596.9,1391.4C599.9,1391.2 602.9,1391 605.9,1390.9C608.9,1390.7 611.9,1390.5 614.9,1390.4C617.9,1390.2 620.9,1390 623.9,1389.8C626.9,1389.6 629.9,1389.4 632.9,1389.3C635.9,1389.1 638.9,1388.9 641.9,1388.7C644.9,1388.5 647.8,1388.3 650.8,1388.1C653.8,1387.9 656.8,1387.8 659.8,1387.6C662.8,1387.4 665.8,1387.2 668.8,1387C671.8,1386.8 674.8,1386.7 677.8,1386.5C680.8,1386.3 683.8,1386.2 686.8,1386C689.8,1385.8 692.8,1385.7 695.8,1385.5C698.8,1385.4 701.8,1385.2 704.8,1385.1C707.7,1384.9 710.7,1384.8 713.7,1384.7C716.7,1384.5 719.7,1384.4 722.7,1384.2C725.7,1384.1 728.7,1383.9 731.7,1383.7C734.7,1383.5 737.7,1383.3 740.7,1383.1C743.7,1382.9 746.7,1382.6 749.7,1382.4C752.7,1382.1 755.7,1381.8 758.6,1381.4C761.6,1381.1 764.6,1380.7 767.6,1380.3C770.6,1379.9 773.5,1379.5 776.5,1379C779.5,1378.6 782.4,1378.1 785.4,1377.6C788.4,1377.2 791.3,1376.7 794.3,1376.2C797.3,1375.8 800.2,1375.3 803.2,1374.9C806.1,1374.4 809.1,1374 812.1,1373.5C815,1373.1 818,1372.7 821,1372.3C824,1371.9 826.9,1371.5 829.9,1371.1C832.9,1370.7 835.8,1370.3 838.8,1369.9C841.8,1369.5 844.8,1369.2 847.8,1368.8C850.7,1368.4 853.7,1368.1 856.7,1367.7C859.7,1367.3 862.6,1367 865.6,1366.6C868.6,1366.3 871.6,1365.9 874.6,1365.6C877.5,1365.2 880.5,1364.9 883.5,1364.6C886.5,1364.2 889.5,1363.9 892.4,1363.5C895.4,1363.2 898.4,1362.8 901.4,1362.5C904.4,1362.1 907.3,1361.8 910.3,1361.4C913.3,1361.1 916.3,1360.7 919.3,1360.4C922.2,1360 925.2,1359.7 928.2,1359.4C931.2,1359 934.2,1358.7 937.1,1358.3C940.1,1358 943.1,1357.6 946.1,1357.3C949.1,1357 952,1356.6 955,1356.3C958,1356 961,1355.6 964,1355.3C966.9,1355 969.9,1354.7 972.9,1354.4C975.9,1354.1 978.9,1353.8 981.9,1353.5C984.8,1353.2 987.8,1352.9 990.8,1352.6C993.8,1352.3 996.8,1352.1 999.8,1351.8C1002.8,1351.5 1005.8,1351.3 1008.7,1351.1C1011.7,1350.8 1014.7,1350.6 1017.7,1350.4C1020.7,1350.1 1023.7,1349.9 1026.7,1349.7C1029.7,1349.5 1032.7,1349.3 1035.7,1349.1C1038.7,1348.9 1041.7,1348.7 1044.7,1348.6C1047.6,1348.4 1050.6,1348.2 1053.6,1348C1056.6,1347.9 1059.6,1347.7 1062.6,1347.6C1065.6,1347.4 1068.6,1347.3 1071.6,1347.1C1074.6,1347 1077.6,1346.9 1080.6,1346.7C1083.6,1346.6 1086.6,1346.5 1089.6,1346.3C1092.6,1346.2 1095.6,1346.1 1098.6,1346C1101.6,1345.9 1104.6,1345.8 1107.6,1345.7C1110.6,1345.5 1113.6,1345.4 1116.6,1345.3C1119.6,1345.2 1122.6,1345.1 1125.6,1345C1128.6,1344.9 1131.6,1344.8 1134.6,1344.8C1137.6,1344.7 1140.6,1344.6 1143.6,1344.5C1146.6,1344.4 1149.6,1344.3 1152.6,1344.2C1155.6,1344.1 1158.6,1344 1161.6,1343.9C1164.6,1343.8 1167.5,1343.7 1170.5,1343.6C1173.5,1343.5 1176.5,1343.4 1179.5,1343.3C1182.5,1343.1 1185.5,1343 1188.5,1342.9C1191.5,1342.7 1194.5,1342.5 1197.5,1342.3C1200.5,1342.1 1203.5,1341.9 1206.5,1341.7C1209.5,1341.5 1212.5,1341.2 1215.5,1340.9C1218.5,1340.6 1221.5,1340.3 1224.4,1340C1227.4,1339.6 1230.4,1339.3 1233.4,1338.9C1236.4,1338.4 1239.3,1338 1242.3,1337.5C1245.3,1337 1248.2,1336.5 1251.2,1336C1254.1,1335.4 1257.1,1334.9 1260,1334.3C1263,1333.7 1265.9,1333.1 1268.9,1332.5C1271.8,1331.9 1274.7,1331.3 1277.7,1330.6C1280.6,1330 1283.5,1329.4 1286.5,1328.8C1289.4,1328.2 1292.4,1327.6 1295.3,1327.1C1298.2,1326.5 1301.2,1325.9 1304.1,1325.4C1307.1,1324.9 1310,1324.4 1313,1323.9C1315.9,1323.4 1318.9,1322.9 1321.9,1322.4C1324.8,1321.9 1327.8,1321.5 1330.7,1321C1333.7,1320.5 1336.7,1320.1 1339.6,1319.6C1342.6,1319.1 1345.6,1318.6 1348.5,1318.1C1351.5,1317.6 1354.4,1317.1 1357.4,1316.6C1360.4,1316.1 1363.3,1315.5 1366.3,1315C1369.2,1314.4 1372.2,1313.9 1375.1,1313.3C1378.1,1312.8 1381,1312.3 1384,1311.7C1386.9,1311.2 1389.9,1310.7 1392.8,1310.2C1395.8,1309.7 1398.7,1309.3 1401.7,1308.8C1404.7,1308.4 1407.6,1308 1410.6,1307.6C1413.6,1307.2 1416.6,1306.9 1419.5,1306.6C1422.5,1306.3 1425.5,1306 1428.5,1305.8C1431.5,1305.6 1434.5,1305.5 1437.5,1305.4C1440.5,1305.3 1443.5,1305.3 1446.5,1305.3C1449.5,1305.4 1452.5,1305.5 1455.5,1305.7C1458.5,1305.9 1461.5,1306.2 1464.4,1306.5C1467.4,1306.9 1470.4,1307.3 1473.4,1307.8C1476.3,1308.4 1479.3,1309 1482.2,1309.7C1485.2,1310.4 1488.1,1311.2 1491,1312C1493.9,1312.8 1496.8,1313.8 1499.6,1314.7C1502.5,1315.7 1505.3,1316.7 1508.2,1317.8C1511,1318.9 1513.8,1320 1516.6,1321.1C1519.4,1322.3 1522.1,1323.4 1524.9,1324.6C1527.7,1325.8 1530.4,1327 1533.2,1328.1C1536,1329.3 1538.7,1330.5 1541.5,1331.7C1544.2,1333 1547,1334.2 1549.7,1335.4C1552.4,1336.6 1555.2,1337.8 1557.9,1339C1560.7,1340.3 1563.4,1341.5 1566.1,1342.7C1568.9,1344 1571.6,1345.2 1574.3,1346.4C1577.1,1347.7 1579.8,1348.9 1582.6,1350.1C1585.3,1351.4 1588,1352.6 1590.8,1353.8C1593.5,1355 1596.2,1356.2 1599,1357.4C1601.7,1358.6 1604.5,1359.8 1607.2,1361C1610,1362.1 1612.8,1363.3 1615.5,1364.4C1618.3,1365.5 1621.1,1366.6 1623.9,1367.7C1626.7,1368.7 1629.5,1369.8 1632.3,1370.8C1635.1,1371.8 1637.9,1372.8 1640.8,1373.7C1643.6,1374.6 1646.4,1375.5 1649.3,1376.4C1652.2,1377.3 1655,1378.1 1657.9,1379C1660.8,1379.8 1663.7,1380.6 1666.6,1381.3C1669.5,1382.1 1672.4,1382.8 1675.3,1383.5C1678.2,1384.2 1681.1,1384.9 1684,1385.5C1686.9,1386.2 1689.9,1386.8 1692.8,1387.4C1695.7,1388 1698.7,1388.5 1701.6,1389.1C1704.6,1389.6 1707.5,1390.2 1710.5,1390.7C1713.4,1391.2 1716.4,1391.6 1719.4,1392.1C1722.3,1392.6 1725.3,1393 1728.2,1393.4C1731.2,1393.8 1734.2,1394.2 1737.2,1394.6C1740.1,1395 1743.1,1395.4 1746.1,1395.7C1749.1,1396.1 1752,1396.4 1755,1396.7C1758,1397 1761,1397.3 1764,1397.6C1767,1397.9 1769.9,1398.2 1772.9,1398.5C1775.9,1398.7 1778.9,1399 1781.9,1399.2C1784.9,1399.4 1787.9,1399.7 1790.9,1399.9C1793.9,1400.1 1796.9,1400.3 1799.8,1400.5C1802.8,1400.6 1805.8,1400.8 1808.8,1401C1811.8,1401.1 1814.8,1401.3 1817.8,1401.4C1820.8,1401.6 1823.8,1401.7 1826.8,1401.8C1829.8,1401.9 1832.8,1402.1 1835.8,1402.2C1838.8,1402.3 1841.8,1402.4 1844.8,1402.4C1847.8,1402.5 1850.8,1402.6 1853.8,1402.7C1856.8,1402.7 1859.8,1402.8 1862.8,1402.9C1865.8,1402.9 1868.8,1403 1871.8,1403C1874.8,1403.1 1877.8,1403.1 1880.8,1403.1C1883.8,1403.2 1886.8,1403.2 1889.8,1403.2C1892.8,1403.2 1895.8,1403.3 1898.8,1403.3C1901.8,1403.3 1904.8,1403.3 1907.8,1403.3C1910.8,1403.3 1913.8,1403.3 1916.8,1403.3C1919.8,1403.3 1922.8,1403.3 1925.8,1403.3C1928.8,1403.3 1931.8,1403.3 1934.8,1403.3C1937.8,1403.3 1940.8,1403.3 1943.8,1403.3C1946.8,1403.3 1949.8,1403.3 1952.8,1403.3C1955.8,1403.3 1958.8,1403.3 1961.8,1403.3C1964.8,1403.3 1967.8,1403.3 1970.8,1403.4C1973.8,1403.4 1976.8,1403.4 1979.8,1403.4C1982.8,1403.4 1985.8,1403.4 1988.8,1403.4C1991.8,1403.4 1994.8,1403.5 1997.8,1403.5C2000.8,1403.5 2003.8,1403.6 2006.8,1403.6C2009.8,1403.6 2012.8,1403.7 2015.8,1403.7C2018.8,1403.8 2021.8,1403.8 2024.8,1403.9C2027.8,1404 2030.8,1404 2033.8,1404.1C2036.8,1404.2 2039.8,1404.3 2042.8,1404.3C2045.8,1404.4 2048.8,1404.5 2051.8,1404.7C2054.8,1404.8 2057.8,1404.9 2060.8,1405C2063.8,1405.1 2066.8,1405.3 2069.8,1405.4C2072.8,1405.6 2075.8,1405.7 2078.7,1405.9C2080.8,1406 2082.9,1406.2 2085,1406.3" stroke="#FF0000" stroke-width="11.5"/>
<path class="c" d="M210,1397C213,1397 216,1397 219,1397C222,1397 225,1397 228,1396.9C231,1396.9 234,1396.9 237,1396.9C240,1396.9 243,1396.9 246,1396.9C249,1396.9 252,1396.9 255,1396.9C258,1396.9 261,1396.8 264,1396.8C267,1396.8 270,1396.8 273,1396.8C276,1396.8 279,1396.8 282,1396.8C285,1396.8 288,1396.8 291,1396.8C294,1396.8 297,1396.8 300,1396.8C303,1396.8 306,1396.7 309,1396.7C312,1396.7 315,1396.7 318,1396.7C321,1396.7 324,1396.7 327,1396.7C330,1396.7 333,1396.7 336,1396.7C339,1396.7 342,1396.7 345,1396.7C348,1396.6 351,1396.6 354,1396.6C357,1396.6 360,1396.6 363,1396.6C366,1396.6 369,1396.6 372,1396.6C375,1396.5 378,1396.5 381,1396.5C384,1396.5 387,1396.5 390,1396.5C393,1396.5 396,1396.5 399,1396.4C402,1396.4 405,1396.4 408,1396.4C411,1396.4 414,1396.3 417,1396.3C420,1396.3 423,1396.3 426,1396.3C429,1396.2 432,1396.2 435,1396.2C438,1396.2 441,1396.1 444,1396.1C447,1396.1 450,1396.1 453,1396C456,1396 459,1396 462,1395.9C465,1395.9 468,1395.9 471,1395.8C474,1395.8 477,1395.8 480,1395.7C483,1395.7 486,1395.7 489,1395.6C492,1395.6 495,1395.5 498,1395.5C501,1395.5 504,1395.4 507,1395.4C510,1395.3 513,1395.3 516,1395.2C519,1395.2 522,1395.1 525,1395.1C528,1395 531,1394.9 534,1394.9C537,1394.8 540,1394.8 543,1394.7C546,1394.6 549,1394.6 552,1394.5C555,1394.5 558,1394.4 561,1394.3C564,1394.2 567,1394.2 570,1394.1C573,1394 576,1393.9 579,1393.9C582,1393.8 585,1393.7 588,1393.6C591,1393.5 594,1393.5 597,1393.4C600,1393.3 603,1393.2 606,1393.1C609,1393 612,1392.9 615,1392.8C618,1392.7 621,1392.6 624,1392.5C627,1392.4 630,1392.3 633,1392.1C636,1392 638.9,1391.9 641.9,1391.8C644.9,1391.7 647.9,1391.5 650.9,1391.4C653.9,1391.3 656.9,1391.1 659.9,1391C662.9,1390.8 665.9,1390.7 668.9,1390.5C671.9,1390.4 674.9,1390.2 677.9,1390C680.9,1389.9 683.9,1389.7 686.9,1389.5C689.9,1389.3 692.9,1389.1 695.9,1388.9C698.9,1388.7 701.9,1388.5 704.9,1388.3C707.8,1388.1 710.8,1387.9 713.8,1387.6C716.8,1387.4 719.8,1387.2 722.8,1386.9C725.8,1386.7 728.8,1386.4 731.8,1386.2C734.8,1385.9 737.8,1385.6 740.7,1385.3C743.7,1385.1 746.7,1384.8 749.7,1384.5C752.7,1384.2 755.7,1383.9 758.7,1383.5C761.6,1383.2 764.6,1382.9 767.6,1382.5C770.6,1382.2 773.6,1381.8 776.5,1381.5C779.5,1381.1 782.5,1380.8 785.5,1380.4C788.5,1380 791.4,1379.6 794.4,1379.2C797.4,1378.8 800.4,1378.4 803.3,1378C806.3,1377.6 809.3,1377.2 812.3,1376.8C815.2,1376.4 818.2,1376 821.2,1375.6C824.1,1375.2 827.1,1374.7 830.1,1374.3C833,1373.9 836,1373.5 839,1373C842,1372.6 844.9,1372.2 847.9,1371.7C850.9,1371.3 853.8,1370.9 856.8,1370.4C859.8,1370 862.7,1369.6 865.7,1369.2C868.7,1368.7 871.6,1368.3 874.6,1367.9C877.6,1367.4 880.6,1367 883.5,1366.6C886.5,1366.2 889.5,1365.8 892.4,1365.3C895.4,1364.9 898.4,1364.5 901.3,1364.1C904.3,1363.7 907.3,1363.3 910.3,1362.9C913.2,1362.5 916.2,1362.1 919.2,1361.7C922.2,1361.3 925.1,1361 928.1,1360.6C931.1,1360.2 934.1,1359.8 937,1359.5C940,1359.1 943,1358.7 946,1358.4C948.9,1358 951.9,1357.7 954.9,1357.3C957.9,1357 960.9,1356.6 963.8,1356.3C966.8,1355.9 969.8,1355.6 972.8,1355.2C975.8,1354.9 978.7,1354.6 981.7,1354.3C984.7,1353.9 987.7,1353.6 990.7,1353.3C993.7,1353 996.6,1352.7 999.6,1352.3C1002.6,1352 1005.6,1351.7 1008.6,1351.4C1011.6,1351.1 1014.5,1350.8 1017.5,1350.5C1020.5,1350.2 1023.5,1349.9 1026.5,1349.7C1029.5,1349.4 1032.5,1349.1 1035.4,1348.8C1038.4,1348.6 1041.4,1348.3 1044.4,1348.1C1047.4,1347.8 1050.4,1347.6 1053.4,1347.4C1056.4,1347.1 1059.4,1346.9 1062.4,1346.7C1065.3,1346.5 1068.3,1346.3 1071.3,1346.1C1074.3,1346 1077.3,1345.8 1080.3,1345.6C1083.3,1345.5 1086.3,1345.3 1089.3,1345.2C1092.3,1345.1 1095.3,1345 1098.3,1344.9C1101.3,1344.8 1104.3,1344.7 1107.3,1344.6C1110.3,1344.6 1113.3,1344.5 1116.3,1344.5C1119.3,1344.4 1122.3,1344.4 1125.3,1344.3C1128.3,1344.2 1131.3,1344.2 1134.3,1344.1C1137.3,1344 1140.3,1343.9 1143.3,1343.7C1146.3,1343.6 1149.3,1343.4 1152.3,1343.2C1155.3,1343 1158.3,1342.8 1161.3,1342.5C1164.2,1342.3 1167.2,1341.9 1170.2,1341.6C1173.2,1341.3 1176.2,1340.9 1179.2,1340.5C1182.1,1340.1 1185.1,1339.7 1188.1,1339.2C1191,1338.8 1194,1338.3 1197,1337.8C1199.9,1337.3 1202.9,1336.7 1205.8,1336.2C1208.8,1335.6 1211.8,1335.1 1214.7,1334.5C1217.6,1333.9 1220.6,1333.3 1223.5,1332.7C1226.5,1332.1 1229.4,1331.4 1232.3,1330.8C1235.3,1330.2 1238.2,1329.5 1241.1,1328.8C1244.1,1328.2 1247,1327.5 1249.9,1326.8C1252.8,1326.1 1255.7,1325.5 1258.7,1324.8C1261.6,1324.1 1264.5,1323.4 1267.4,1322.7C1270.3,1322 1273.3,1321.3 1276.2,1320.6C1279.1,1319.8 1282,1319.1 1284.9,1318.4C1287.8,1317.7 1290.7,1317 1293.7,1316.3C1296.6,1315.5 1299.5,1314.8 1302.4,1314.1C1305.3,1313.4 1308.2,1312.6 1311.1,1311.9C1314,1311.2 1317,1310.5 1319.9,1309.7C1322.8,1309 1325.7,1308.3 1328.6,1307.6C1331.5,1306.9 1334.4,1306.1 1337.3,1305.4C1340.2,1304.7 1343.2,1304 1346.1,1303.3C1349,1302.6 1351.9,1301.9 1354.8,1301.2C1357.7,1300.5 1360.7,1299.8 1363.6,1299.2C1366.5,1298.5 1369.4,1297.8 1372.4,1297.2C1375.3,1296.5 1378.2,1295.9 1381.1,1295.3C1384.1,1294.7 1387,1294.1 1390,1293.6C1392.9,1293 1395.8,1292.5 1398.8,1292C1401.8,1291.5 1404.7,1291 1407.7,1290.6C1410.6,1290.2 1413.6,1289.8 1416.6,1289.5C1419.6,1289.2 1422.6,1288.9 1425.5,1288.7C1428.5,1288.4 1431.5,1288.2 1434.5,1288.1C1437.5,1288 1440.5,1287.9 1443.5,1287.9C1446.5,1287.9 1449.5,1288 1452.5,1288.2C1455.5,1288.3 1458.5,1288.5 1461.5,1288.8C1464.5,1289.1 1467.5,1289.5 1470.4,1290C1473.4,1290.5 1476.4,1291 1479.3,1291.7C1482.3,1292.3 1485.2,1293.1 1488.1,1293.9C1491,1294.7 1493.9,1295.6 1496.8,1296.6C1499.6,1297.7 1502.5,1298.8 1505.3,1299.9C1508.1,1301.1 1510.8,1302.4 1513.6,1303.7C1516.3,1305 1519,1306.4 1521.7,1307.8C1524.3,1309.2 1527,1310.7 1529.6,1312.2C1532.2,1313.7 1534.8,1315.2 1537.4,1316.7C1540,1318.2 1542.6,1319.8 1545.2,1321.3C1547.8,1322.8 1550.4,1324.4 1552.9,1325.9C1555.5,1327.5 1558.1,1329 1560.7,1330.5C1563.2,1332.1 1565.8,1333.6 1568.4,1335.1C1571,1336.6 1573.6,1338.1 1576.2,1339.6C1578.7,1341.1 1581.3,1342.6 1583.9,1344.1C1586.5,1345.6 1589.2,1347 1591.8,1348.5C1594.4,1349.9 1597,1351.4 1599.6,1352.8C1602.3,1354.2 1604.9,1355.6 1607.6,1357C1610.2,1358.3 1612.9,1359.7 1615.6,1361C1618.2,1362.3 1620.9,1363.6 1623.6,1364.9C1626.3,1366.2 1629.1,1367.4 1631.8,1368.6C1634.5,1369.8 1637.3,1371 1640,1372.1C1642.8,1373.3 1645.6,1374.4 1648.3,1375.4C1651.1,1376.5 1653.9,1377.5 1656.8,1378.4C1659.6,1379.4 1662.4,1380.3 1665.3,1381.2C1668.1,1382 1671,1382.8 1673.9,1383.6C1676.8,1384.4 1679.7,1385.1 1682.6,1385.8C1685.5,1386.5 1688.4,1387.2 1691.3,1387.8C1694.3,1388.4 1697.2,1389 1700.1,1389.6C1703.1,1390.1 1706,1390.6 1709,1391.1C1712,1391.6 1714.9,1392 1717.9,1392.5C1720.8,1392.9 1723.8,1393.3 1726.8,1393.6C1729.8,1394 1732.7,1394.4 1735.7,1394.7C1738.7,1395 1741.7,1395.3 1744.7,1395.6C1747.6,1395.9 1750.6,1396.2 1753.6,1396.4C1756.6,1396.7 1759.6,1396.9 1762.6,1397.2C1765.6,1397.4 1768.6,1397.7 1771.6,1397.9C1774.5,1398.1 1777.5,1398.3 1780.5,1398.6C1783.5,1398.8 1786.5,1399 1789.5,1399.2C1792.5,1399.4 1795.5,1399.6 1798.5,1399.7C1801.5,1399.9 1804.5,1400.1 1807.5,1400.3C1810.5,1400.4 1813.5,1400.6 1816.5,1400.8C1819.5,1400.9 1822.5,1401.1 1825.4,1401.2C1828.4,1401.3 1831.4,1401.5 1834.4,1401.6C1837.4,1401.7 1840.4,1401.9 1843.4,1402C1846.4,1402.1 1849.4,1402.2 1852.4,1402.3C1855.4,1402.4 1858.4,1402.5 1861.4,1402.6C1864.4,1402.7 1867.4,1402.8 1870.4,1402.9C1873.4,1403 1876.4,1403.1 1879.4,1403.2C1882.4,1403.3 1885.4,1403.3 1888.4,1403.4C1891.4,1403.5 1894.4,1403.5 1897.4,1403.6C1900.4,1403.7 1903.4,1403.7 1906.4,1403.8C1909.4,1403.9 1912.4,1403.9 1915.4,1404C1918.4,1404 1921.4,1404.1 1924.4,1404.1C1927.4,1404.2 1930.4,1404.2 1933.4,1404.2C1936.4,1404.3 1939.4,1404.3 1942.4,1404.4C1945.4,1404.4 1948.4,1404.4 1951.4,1404.5C1954.4,1404.5 1957.4,1404.5 1960.4,1404.6C1963.4,1404.6 1966.4,1404.6 1969.4,1404.7C1972.4,1404.7 1975.4,1404.7 1978.4,1404.8C1981.4,1404.8 1984.4,1404.8 1987.4,1404.8C1990.4,1404.9 1993.4,1404.9 1996.4,1404.9C1999.4,1404.9 2002.4,1405 2005.4,1405C2008.4,1405 2011.4,1405.1 2014.4,1405.1C2017.4,1405.1 2020.4,1405.2 2023.4,1405.2C2026.4,1405.2 2029.4,1405.2 2032.4,1405.3C2035.4,1405.3 2038.4,1405.3 2041.4,1405.4C2044.4,1405.4 2047.4,1405.5 2050.4,1405.5C2053.4,1405.5 2056.4,1405.6 2059.4,1405.6C2062.4,1405.7 2065.4,1405.7 2068.4,1405.8C2071.4,1405.8 2074.4,1405.9 2077.4,1405.9C2079.9,1406 2082.5,1406 2085,1406.1" stroke="#00FF00" stroke-width="11.5"/>
<path class="c" d="M210,1396.3C213,1396.3 216,1396.3 219,1396.3C222,1396.3 225,1396.4 228,1396.4C231,1396.4 234,1396.4 237,1396.5C240,1396.5 243,1396.5 246,1396.5C249,1396.5 252,1396.6 255,1396.6C258,1396.6 261,1396.6 264,1396.7C267,1396.7 270,1396.7 273,1396.7C276,1396.7 279,1396.7 282,1396.8C285,1396.8 288,1396.8 291,1396.8C294,1396.8 297,1396.9 300,1396.9C303,1396.9 306,1396.9 309,1396.9C312,1396.9 315,1397 318,1397C321,1397 324,1397 327,1397C330,1397 333,1397 336,1397C339,1397.1 342,1397.1 345,1397.1C348,1397.1 351,1397.1 354,1397.1C357,1397.1 360,1397.1 363,1397.1C366,1397.1 369,1397.1 372,1397.2C375,1397.2 378,1397.2 381,1397.2C384,1397.2 387,1397.2 390,1397.2C393,1397.2 396,1397.2 399,1397.2C402,1397.2 405,1397.2 408,1397.2C411,1397.2 414,1397.2 417,1397.2C420,1397.2 423,1397.2 426,1397.2C429,1397.2 432,1397.2 435,1397.2C438,1397.2 441,1397.1 444,1397.1C447,1397.1 450,1397.1 453,1397.1C456,1397.1 459,1397.1 462,1397.1C465,1397.1 468,1397 471,1397C474,1397 477,1397 480,1397C483,1397 486,1397 489,1396.9C492,1396.9 495,1396.9 498,1396.9C501,1396.8 504,1396.8 507,1396.8C510,1396.8 513,1396.7 516,1396.7C519,1396.7 522,1396.7 525,1396.6C528,1396.6 531,1396.6 534,1396.5C537,1396.5 540,1396.5 543,1396.4C546,1396.4 549,1396.4 552,1396.3C555,1396.3 558,1396.2 561,1396.2C564,1396.2 567,1396.1 570,1396.1C573,1396 576,1396 579,1395.9C582,1395.9 585,1395.8 588,1395.8C591,1395.7 594,1395.7 597,1395.6C600,1395.6 603,1395.5 606,1395.5C609,1395.4 612,1395.4 615,1395.3C618,1395.2 621,1395.2 624,1395.1C627,1395 630,1395 633,1394.9C636,1394.8 639,1394.7 642,1394.6C645,1394.6 648,1394.5 651,1394.4C654,1394.3 657,1394.2 660,1394.1C663,1394 666,1393.9 669,1393.7C672,1393.6 675,1393.5 678,1393.4C681,1393.3 684,1393.1 687,1393C689.9,1392.8 692.9,1392.7 695.9,1392.5C698.9,1392.4 701.9,1392.2 704.9,1392C707.9,1391.9 710.9,1391.7 713.9,1391.5C716.9,1391.3 719.9,1391.1 722.9,1390.9C725.9,1390.7 728.9,1390.5 731.9,1390.3C734.9,1390 737.9,1389.8 740.8,1389.6C743.8,1389.3 746.8,1389.1 749.8,1388.8C752.8,1388.5 755.8,1388.2 758.8,1388C761.8,1387.7 764.8,1387.4 767.7,1387.1C770.7,1386.8 773.7,1386.4 776.7,1386.1C779.7,1385.8 782.7,1385.5 785.6,1385.1C788.6,1384.8 791.6,1384.4 794.6,1384.1C797.6,1383.7 800.5,1383.4 803.5,1383C806.5,1382.6 809.5,1382.3 812.5,1381.9C815.4,1381.5 818.4,1381.1 821.4,1380.8C824.4,1380.4 827.3,1380 830.3,1379.6C833.3,1379.2 836.3,1378.9 839.2,1378.5C842.2,1378.1 845.2,1377.7 848.2,1377.3C851.1,1376.9 854.1,1376.6 857.1,1376.2C860.1,1375.8 863,1375.4 866,1375.1C869,1374.7 872,1374.3 875,1374C877.9,1373.6 880.9,1373.2 883.9,1372.9C886.9,1372.5 889.8,1372.2 892.8,1371.8C895.8,1371.5 898.8,1371.2 901.8,1370.8C904.7,1370.5 907.7,1370.2 910.7,1369.9C913.7,1369.6 916.7,1369.3 919.7,1369C922.6,1368.7 925.6,1368.4 928.6,1368.1C931.6,1367.8 934.6,1367.6 937.6,1367.3C940.6,1367 943.6,1366.8 946.5,1366.5C949.5,1366.3 952.5,1366 955.5,1365.8C958.5,1365.6 961.5,1365.3 964.5,1365.1C967.5,1364.9 970.5,1364.6 973.5,1364.4C976.5,1364.2 979.4,1364 982.4,1363.8C985.4,1363.6 988.4,1363.4 991.4,1363.2C994.4,1363 997.4,1362.8 1000.4,1362.6C1003.4,1362.4 1006.4,1362.3 1009.4,1362.1C1012.4,1361.9 1015.4,1361.7 1018.4,1361.6C1021.4,1361.4 1024.4,1361.2 1027.3,1361.1C1030.3,1360.9 1033.3,1360.8 1036.3,1360.6C1039.3,1360.5 1042.3,1360.3 1045.3,1360.2C1048.3,1360 1051.3,1359.9 1054.3,1359.8C1057.3,1359.6 1060.3,1359.5 1063.3,1359.4C1066.3,1359.2 1069.3,1359.1 1072.3,1359C1075.3,1358.8 1078.3,1358.7 1081.3,1358.6C1084.3,1358.5 1087.3,1358.3 1090.3,1358.2C1093.3,1358.1 1096.3,1358 1099.3,1357.9C1102.3,1357.8 1105.3,1357.6 1108.3,1357.5C1111.3,1357.4 1114.3,1357.3 1117.3,1357.2C1120.3,1357.1 1123.3,1357 1126.3,1356.9C1129.3,1356.7 1132.3,1356.6 1135.2,1356.5C1138.2,1356.4 1141.2,1356.3 1144.2,1356.2C1147.2,1356.1 1150.2,1356 1153.2,1355.9C1156.2,1355.8 1159.2,1355.7 1162.2,1355.5C1165.2,1355.4 1168.2,1355.3 1171.2,1355.2C1174.2,1355.1 1177.2,1354.9 1180.2,1354.8C1183.2,1354.7 1186.2,1354.5 1189.2,1354.4C1192.2,1354.2 1195.2,1354.1 1198.2,1353.9C1201.2,1353.8 1204.2,1353.6 1207.2,1353.4C1210.2,1353.2 1213.2,1353 1216.2,1352.8C1219.2,1352.6 1222.2,1352.3 1225.1,1352.1C1228.1,1351.8 1231.1,1351.6 1234.1,1351.3C1237.1,1351 1240.1,1350.7 1243.1,1350.4C1246.1,1350.1 1249,1349.8 1252,1349.4C1255,1349 1258,1348.6 1261,1348.3C1263.9,1347.9 1266.9,1347.4 1269.9,1347C1272.8,1346.6 1275.8,1346.1 1278.8,1345.7C1281.7,1345.2 1284.7,1344.7 1287.7,1344.3C1290.6,1343.8 1293.6,1343.3 1296.6,1342.8C1299.5,1342.3 1302.5,1341.8 1305.4,1341.3C1308.4,1340.8 1311.4,1340.3 1314.3,1339.8C1317.3,1339.3 1320.2,1338.7 1323.2,1338.2C1326.1,1337.7 1329.1,1337.2 1332,1336.7C1335,1336.2 1338,1335.7 1340.9,1335.2C1343.9,1334.7 1346.8,1334.3 1349.8,1333.8C1352.8,1333.3 1355.7,1332.8 1358.7,1332.4C1361.7,1332 1364.6,1331.5 1367.6,1331.1C1370.6,1330.7 1373.5,1330.3 1376.5,1329.9C1379.5,1329.5 1382.4,1329.1 1385.4,1328.8C1388.4,1328.4 1391.4,1328.1 1394.4,1327.8C1397.3,1327.5 1400.3,1327.3 1403.3,1327C1406.3,1326.8 1409.3,1326.5 1412.3,1326.4C1415.3,1326.2 1418.3,1326 1421.3,1325.9C1424.3,1325.8 1427.3,1325.7 1430.3,1325.6C1433.3,1325.6 1436.3,1325.6 1439.3,1325.6C1442.3,1325.6 1445.3,1325.7 1448.3,1325.8C1451.3,1325.9 1454.3,1326.1 1457.3,1326.3C1460.3,1326.5 1463.2,1326.8 1466.2,1327.1C1469.2,1327.3 1472.2,1327.7 1475.2,1328.1C1478.2,1328.5 1481.1,1328.9 1484.1,1329.4C1487.1,1329.9 1490,1330.5 1493,1331.1C1495.9,1331.7 1498.9,1332.4 1501.8,1333.1C1504.7,1333.8 1507.6,1334.6 1510.5,1335.4C1513.4,1336.2 1516.3,1337.1 1519.2,1338C1522.1,1338.9 1524.9,1339.8 1527.8,1340.8C1530.6,1341.8 1533.5,1342.8 1536.3,1343.8C1539.1,1344.8 1542,1345.9 1544.8,1347C1547.6,1348 1550.4,1349.1 1553.2,1350.3C1556,1351.4 1558.7,1352.5 1561.5,1353.6C1564.3,1354.8 1567.1,1355.9 1569.9,1357C1572.6,1358.2 1575.4,1359.3 1578.2,1360.4C1581,1361.6 1583.7,1362.7 1586.5,1363.8C1589.3,1364.9 1592.1,1366 1594.9,1367.1C1597.7,1368.2 1600.5,1369.2 1603.3,1370.2C1606.1,1371.3 1608.9,1372.3 1611.7,1373.2C1614.6,1374.2 1617.4,1375.2 1620.2,1376.1C1623.1,1377 1625.9,1377.9 1628.8,1378.8C1631.7,1379.7 1634.5,1380.5 1637.4,1381.3C1640.3,1382.1 1643.2,1382.9 1646.1,1383.7C1649,1384.5 1651.9,1385.2 1654.8,1385.9C1657.7,1386.7 1660.6,1387.4 1663.5,1388C1666.4,1388.7 1669.4,1389.3 1672.3,1390C1675.2,1390.6 1678.1,1391.2 1681.1,1391.8C1684,1392.3 1687,1392.9 1689.9,1393.4C1692.9,1394 1695.8,1394.5 1698.8,1395C1701.7,1395.4 1704.7,1395.9 1707.7,1396.4C1710.6,1396.8 1713.6,1397.2 1716.6,1397.6C1719.5,1398 1722.5,1398.4 1725.5,1398.8C1728.4,1399.2 1731.4,1399.5 1734.4,1399.8C1737.4,1400.2 1740.4,1400.5 1743.3,1400.8C1746.3,1401.1 1749.3,1401.4 1752.3,1401.6C1755.3,1401.9 1758.3,1402.1 1761.3,1402.4C1764.3,1402.6 1767.2,1402.8 1770.2,1403C1773.2,1403.2 1776.2,1403.4 1779.2,1403.6C1782.2,1403.8 1785.2,1403.9 1788.2,1404.1C1791.2,1404.2 1794.2,1404.4 1797.2,1404.5C1800.2,1404.6 1803.2,1404.7 1806.2,1404.8C1809.2,1404.9 1812.2,1405 1815.2,1405.1C1818.2,1405.2 1821.2,1405.3 1824.2,1405.3C1827.2,1405.4 1830.2,1405.4 1833.2,1405.5C1836.2,1405.5 1839.2,1405.5 1842.2,1405.6C1845.2,1405.6 1848.2,1405.6 1851.2,1405.6C1854.2,1405.6 1857.2,1405.6 1860.2,1405.6C1863.2,1405.6 1866.2,1405.6 1869.2,1405.6C1872.2,1405.6 1875.2,1405.6 1878.2,1405.5C1881.2,1405.5 1884.2,1405.5 1887.2,1405.5C1890.2,1405.4 1893.2,1405.4 1896.2,1405.4C1899.2,1405.3 1902.2,1405.3 1905.2,1405.3C1908.2,1405.2 1911.2,1405.2 1914.2,1405.1C1917.2,1405.1 1920.2,1405 1923.2,1405C1926.2,1405 1929.2,1404.9 1932.2,1404.9C1935.2,1404.8 1938.2,1404.8 1941.2,1404.7C1944.2,1404.7 1947.2,1404.7 1950.2,1404.6C1953.2,1404.6 1956.2,1404.6 1959.2,1404.5C1962.2,1404.5 1965.2,1404.5 1968.2,1404.5C1971.2,1404.4 1974.2,1404.4 1977.2,1404.4C1980.2,1404.4 1983.2,1404.4 1986.2,1404.4C1989.2,1404.4 1992.2,1404.4 1995.2,1404.4C1998.2,1404.4 2001.2,1404.4 2004.2,1404.5C2007.2,1404.5 2010.2,1404.5 2013.2,1404.6C2016.2,1404.6 2019.2,1404.7 2022.2,1404.7C2025.2,1404.8 2028.2,1404.9 2031.2,1405C2034.2,1405 2037.2,1405.1 2040.2,1405.2C2043.2,1405.3 2046.2,1405.5 2049.2,1405.6C2052.1,1405.7 2055.1,1405.9 2058.1,1406C2061.1,1406.2 2064.1,1406.3 2067.1,1406.5C2070.1,1406.7 2073.1,1406.9 2076.1,1407.1C2079.1,1407.3 2082,1407.5 2085,1407.8" stroke="#FF00FF" stroke-width="11.5"/>
<path class="c" d="M210,1384.4C213,1384.4 216,1384.4 219,1384.4C222,1384.4 225,1384.4 228,1384.4C231,1384.4 234,1384.4 237,1384.4C240,1384.4 243,1384.3 246,1384.3C249,1384.3 252,1384.3 255,1384.3C258,1384.3 261,1384.2 264,1384.2C267,1384.2 270,1384.2 273,1384.1C276,1384.1 279,1384.1 282,1384C285,1384 288,1383.9 291,1383.9C294,1383.8 297,1383.8 300,1383.7C303,1383.7 306,1383.6 309,1383.5C312,1383.4 315,1383.4 318,1383.3C321,1383.2 324,1383.1 327,1383C330,1382.9 333,1382.8 336,1382.7C339,1382.6 342,1382.5 345,1382.4C348,1382.3 351,1382.2 354,1382C357,1381.9 360,1381.8 363,1381.6C366,1381.5 369,1381.3 372,1381.2C375,1381 377.9,1380.9 380.9,1380.7C383.9,1380.5 386.9,1380.3 389.9,1380.1C392.9,1380 395.9,1379.8 398.9,1379.6C401.9,1379.3 404.9,1379.1 407.9,1378.9C410.9,1378.7 413.9,1378.5 416.9,1378.2C419.9,1378 422.8,1377.7 425.8,1377.5C428.8,1377.2 431.8,1376.9 434.8,1376.7C437.8,1376.4 440.8,1376.1 443.8,1375.8C446.7,1375.5 449.7,1375.2 452.7,1374.9C455.7,1374.5 458.7,1374.2 461.7,1373.9C464.6,1373.5 467.6,1373.2 470.6,1372.8C473.6,1372.5 476.6,1372.1 479.5,1371.7C482.5,1371.3 485.5,1370.9 488.5,1370.5C491.4,1370.1 494.4,1369.7 497.4,1369.3C500.4,1368.8 503.3,1368.4 506.3,1367.9C509.3,1367.5 512.2,1367 515.2,1366.5C518.2,1366.1 521.1,1365.6 524.1,1365.1C527,1364.6 530,1364.1 532.9,1363.5C535.9,1363 538.9,1362.5 541.8,1361.9C544.8,1361.4 547.7,1360.8 550.7,1360.2C553.6,1359.6 556.5,1359 559.5,1358.4C562.4,1357.8 565.4,1357.2 568.3,1356.6C571.2,1356 574.2,1355.4 577.1,1354.7C580,1354.1 583,1353.4 585.9,1352.7C588.8,1352.1 591.7,1351.4 594.7,1350.7C597.6,1350 600.5,1349.3 603.4,1348.6C606.3,1347.8 609.3,1347.1 612.2,1346.4C615.1,1345.6 618,1344.9 620.9,1344.1C623.8,1343.4 626.7,1342.6 629.6,1341.8C632.5,1341 635.4,1340.2 638.3,1339.4C641.2,1338.6 644.1,1337.8 646.9,1336.9C649.8,1336.1 652.7,1335.3 655.6,1334.4C658.5,1333.6 661.4,1332.7 664.2,1331.8C667.1,1331 670,1330.1 672.8,1329.2C675.7,1328.3 678.6,1327.4 681.4,1326.5C684.3,1325.6 687.1,1324.6 690,1323.7C692.9,1322.8 695.7,1321.8 698.6,1320.9C701.4,1319.9 704.2,1319 707.1,1318C709.9,1317 712.8,1316 715.6,1315C718.4,1314 721.3,1313 724.1,1311.9C726.9,1310.9 729.7,1309.8 732.5,1308.8C735.3,1307.7 738.1,1306.6 740.9,1305.5C743.7,1304.4 746.5,1303.3 749.3,1302.1C752.1,1300.9 754.9,1299.8 757.6,1298.6C760.4,1297.4 763.1,1296.1 765.9,1294.9C768.6,1293.6 771.3,1292.4 774,1291C776.8,1289.7 779.5,1288.4 782.2,1287.1C784.9,1285.7 787.5,1284.3 790.2,1282.9C792.9,1281.5 795.5,1280 798.1,1278.6C800.8,1277.1 803.4,1275.6 806,1274.1C808.6,1272.5 811.2,1271 813.8,1269.4C816.3,1267.8 818.9,1266.2 821.4,1264.5C824,1262.9 826.5,1261.2 829,1259.5C831.5,1257.8 833.9,1256.1 836.4,1254.3C838.9,1252.6 841.3,1250.8 843.7,1249C846.1,1247.1 848.5,1245.3 850.9,1243.4C853.3,1241.6 855.7,1239.7 858,1237.7C860.3,1235.8 862.7,1233.9 865,1231.9C867.3,1230 869.5,1228 871.8,1226C874.1,1224 876.3,1222 878.6,1219.9C880.8,1217.9 883,1215.9 885.2,1213.8C887.4,1211.8 889.6,1209.7 891.8,1207.6C894,1205.5 896.2,1203.4 898.3,1201.3C900.5,1199.2 902.6,1197.1 904.8,1195C906.9,1192.9 909,1190.7 911.1,1188.6C913.3,1186.4 915.4,1184.3 917.5,1182.1C919.6,1180 921.7,1177.8 923.8,1175.7C925.9,1173.5 927.9,1171.3 930,1169.1C932.1,1167 934.2,1164.8 936.2,1162.6C938.3,1160.4 940.4,1158.3 942.4,1156.1C944.5,1153.9 946.6,1151.8 948.6,1149.6C950.7,1147.4 952.8,1145.3 954.9,1143.2C956.9,1141 959,1138.9 961.1,1136.8C963.2,1134.6 965.4,1132.5 967.5,1130.5C969.6,1128.4 971.8,1126.3 973.9,1124.3C976.1,1122.2 978.3,1120.2 980.5,1118.2C982.7,1116.2 984.9,1114.3 987.1,1112.4C989.4,1110.4 991.7,1108.5 994,1106.7C996.3,1104.9 998.6,1103.1 1001,1101.3C1003.4,1099.6 1005.8,1097.9 1008.3,1096.3C1010.8,1094.7 1013.3,1093.2 1015.9,1091.8C1018.4,1090.3 1021,1089 1023.7,1087.8C1026.4,1086.6 1029.1,1085.5 1031.9,1084.5C1034.7,1083.6 1037.6,1082.8 1040.4,1082.1C1043.3,1081.4 1046.3,1080.9 1049.2,1080.5C1052.1,1080 1055.1,1079.8 1058.1,1079.6C1061.1,1079.4 1064.1,1079.4 1067.1,1079.4C1070.1,1079.4 1073.1,1079.5 1076.1,1079.7C1079.1,1079.9 1082.1,1080.1 1085.1,1080.4C1088.1,1080.7 1091,1081 1094,1081.4C1097,1081.7 1100,1082.1 1103,1082.5C1105.9,1082.8 1108.9,1083.2 1111.9,1083.5C1114.9,1083.9 1117.9,1084.2 1120.8,1084.5C1123.8,1084.7 1126.8,1084.9 1129.8,1085.1C1132.8,1085.2 1135.8,1085.3 1138.8,1085.3C1141.8,1085.2 1144.8,1085.1 1147.8,1084.9C1150.8,1084.6 1153.8,1084.3 1156.8,1083.8C1159.8,1083.3 1162.7,1082.7 1165.7,1082C1168.6,1081.3 1171.5,1080.4 1174.4,1079.5C1177.3,1078.5 1180.1,1077.5 1182.9,1076.3C1185.8,1075.2 1188.5,1074 1191.3,1072.6C1194,1071.3 1196.7,1069.9 1199.4,1068.4C1202.1,1066.9 1204.7,1065.4 1207.3,1063.8C1209.8,1062.2 1212.4,1060.5 1214.9,1058.7C1217.4,1057 1219.8,1055.2 1222.3,1053.4C1224.7,1051.5 1227.1,1049.6 1229.4,1047.7C1231.8,1045.8 1234.1,1043.8 1236.4,1041.8C1238.7,1039.8 1240.9,1037.7 1243.2,1035.7C1245.4,1033.6 1247.6,1031.5 1249.7,1029.3C1251.9,1027.2 1254,1025 1256.1,1022.8C1258.2,1020.6 1260.3,1018.4 1262.4,1016.2C1264.4,1014 1266.4,1011.7 1268.4,1009.4C1270.5,1007.2 1272.4,1004.9 1274.4,1002.6C1276.4,1000.3 1278.3,998 1280.3,995.7C1282.2,993.4 1284.2,991 1286.1,988.7C1288,986.4 1289.9,984 1291.8,981.7C1293.7,979.3 1295.6,977 1297.4,974.6C1299.3,972.3 1301.2,969.9 1303,967.6C1304.9,965.2 1306.7,962.8 1308.6,960.5C1310.5,958.1 1312.3,955.7 1314.1,953.3C1316,951 1317.8,948.6 1319.7,946.2C1321.5,943.9 1323.3,941.5 1325.2,939.1C1327,936.8 1328.9,934.4 1330.7,932C1332.5,929.7 1334.4,927.3 1336.2,924.9C1338.1,922.6 1339.9,920.2 1341.8,917.9C1343.6,915.6 1345.5,913.2 1347.4,910.9C1349.2,908.6 1351.1,906.2 1353,903.9C1354.9,901.6 1356.8,899.3 1358.7,897C1360.6,894.7 1362.5,892.4 1364.5,890.2C1366.4,887.9 1368.3,885.7 1370.3,883.5C1372.3,881.2 1374.3,879 1376.3,876.9C1378.3,874.7 1380.3,872.5 1382.4,870.4C1384.4,868.3 1386.5,866.2 1388.6,864.1C1390.8,862.1 1392.9,860.1 1395.1,858.1C1397.3,856.1 1399.5,854.2 1401.8,852.4C1404.1,850.5 1406.4,848.7 1408.8,847C1411.2,845.3 1413.6,843.7 1416.1,842.2C1418.6,840.7 1421.2,839.2 1423.8,838C1426.4,836.7 1429.1,835.6 1431.9,834.7C1434.7,833.8 1437.6,833 1440.5,832.7C1443.4,832.4 1446.5,832.4 1449.4,832.9C1452.5,833.3 1455.5,834.3 1458.3,835.6C1461.2,837 1463.9,838.9 1466.4,840.9C1468.9,843 1471.2,845.4 1473.3,847.8C1475.5,850.2 1477.4,852.8 1479.2,855.5C1481,858.1 1482.7,860.9 1484.3,863.7C1485.9,866.4 1487.3,869.2 1488.8,872.1C1490.2,874.9 1491.5,877.7 1492.8,880.6C1494,883.4 1495.2,886.3 1496.4,889.1C1497.6,892 1498.7,894.8 1499.9,897.7C1501,900.5 1502.1,903.4 1503.1,906.3C1504.2,909.1 1505.3,912 1506.3,914.8C1507.3,917.7 1508.4,920.5 1509.4,923.4C1510.4,926.2 1511.4,929 1512.4,931.9C1513.4,934.7 1514.4,937.5 1515.4,940.4C1516.4,943.2 1517.4,946.1 1518.4,948.9C1519.4,951.8 1520.4,954.6 1521.4,957.5C1522.4,960.4 1523.3,963.2 1524.3,966.1C1525.3,969 1526.2,971.9 1527.1,974.8C1528.1,977.7 1529,980.6 1529.9,983.5C1530.8,986.5 1531.7,989.4 1532.5,992.3C1533.4,995.3 1534.3,998.2 1535.1,1001.2C1535.9,1004.1 1536.7,1007.1 1537.5,1010C1538.3,1013 1539.1,1015.9 1539.9,1018.8C1540.7,1021.8 1541.4,1024.7 1542.2,1027.6C1542.9,1030.5 1543.7,1033.4 1544.4,1036.3C1545.2,1039.2 1546,1042 1546.7,1044.9C1547.5,1047.8 1548.3,1050.6 1549.1,1053.5C1549.8,1056.3 1550.6,1059.1 1551.5,1062C1552.3,1064.8 1553.1,1067.6 1554,1070.5C1554.8,1073.3 1555.7,1076.1 1556.5,1079C1557.4,1081.8 1558.3,1084.7 1559.2,1087.5C1560,1090.3 1560.9,1093.2 1561.8,1096C1562.7,1098.9 1563.6,1101.8 1564.5,1104.6C1565.4,1107.5 1566.3,1110.3 1567.2,1113.2C1568.2,1116 1569.1,1118.9 1570,1121.7C1570.9,1124.6 1571.8,1127.4 1572.7,1130.3C1573.6,1133.1 1574.5,1136 1575.4,1138.8C1576.4,1141.7 1577.3,1144.5 1578.2,1147.3C1579.1,1150.2 1580.1,1153 1581,1155.8C1582,1158.7 1582.9,1161.5 1583.8,1164.3C1584.8,1167.1 1585.8,1169.9 1586.7,1172.7C1587.7,1175.5 1588.7,1178.4 1589.7,1181.2C1590.6,1183.9 1591.6,1186.7 1592.7,1189.5C1593.7,1192.3 1594.7,1195.1 1595.7,1197.9C1596.8,1200.6 1597.8,1203.4 1598.9,1206.1C1599.9,1208.9 1601,1211.6 1602.1,1214.4C1603.2,1217.1 1604.3,1219.8 1605.5,1222.6C1606.6,1225.3 1607.8,1228 1609,1230.7C1610.1,1233.4 1611.3,1236.1 1612.6,1238.8C1613.8,1241.5 1615,1244.1 1616.3,1246.8C1617.5,1249.5 1618.8,1252.1 1620.1,1254.7C1621.5,1257.4 1622.8,1260 1624.2,1262.6C1625.5,1265.2 1626.9,1267.8 1628.3,1270.4C1629.8,1272.9 1631.2,1275.5 1632.7,1278C1634.2,1280.6 1635.7,1283.1 1637.2,1285.6C1638.8,1288.1 1640.3,1290.6 1642,1293C1643.6,1295.5 1645.2,1297.9 1646.9,1300.3C1648.6,1302.7 1650.3,1305.1 1652,1307.5C1653.8,1309.8 1655.6,1312.1 1657.4,1314.4C1659.3,1316.7 1661.1,1319 1663,1321.2C1664.9,1323.5 1666.9,1325.7 1668.9,1327.8C1670.9,1330 1672.9,1332.1 1675,1334.2C1677.1,1336.3 1679.2,1338.3 1681.3,1340.3C1683.5,1342.3 1685.7,1344.2 1688,1346.1C1690.2,1348 1692.5,1349.8 1694.9,1351.6C1697.2,1353.4 1699.6,1355.1 1702,1356.8C1704.4,1358.5 1706.9,1360.1 1709.4,1361.6C1712,1363.1 1714.5,1364.6 1717.1,1366C1719.7,1367.4 1722.4,1368.8 1725,1370.1C1727.7,1371.3 1730.4,1372.6 1733.2,1373.7C1735.9,1374.9 1738.7,1375.9 1741.5,1377C1744.2,1378 1747.1,1378.9 1749.9,1379.9C1752.7,1380.8 1755.6,1381.6 1758.5,1382.4C1761.3,1383.2 1764.2,1384 1767.1,1384.7C1770,1385.4 1772.9,1386.1 1775.9,1386.8C1778.8,1387.4 1781.7,1388 1784.7,1388.6C1787.6,1389.1 1790.5,1389.6 1793.5,1390.1C1796.5,1390.6 1799.4,1391.1 1802.4,1391.5C1805.4,1391.9 1808.3,1392.3 1811.3,1392.6C1814.3,1393 1817.3,1393.3 1820.2,1393.6C1823.2,1393.8 1826.2,1394.1 1829.2,1394.3C1832.2,1394.6 1835.2,1394.8 1838.2,1395C1841.2,1395.2 1844.2,1395.3 1847.2,1395.5C1850.1,1395.6 1853.1,1395.8 1856.1,1395.9C1859.1,1396 1862.1,1396.1 1865.1,1396.2C1868.1,1396.2 1871.1,1396.3 1874.1,1396.4C1877.1,1396.4 1880.1,1396.5 1883.1,1396.6C1886.1,1396.6 1889.1,1396.6 1892.1,1396.7C1895.1,1396.7 1898.1,1396.8 1901.1,1396.8C1904.1,1396.9 1907.1,1396.9 1910.1,1396.9C1913.1,1397 1916.1,1397 1919.1,1397.1C1922.1,1397.2 1925.1,1397.2 1928.1,1397.3C1931.1,1397.3 1934.1,1397.4 1937.1,1397.5C1940.1,1397.6 1943.1,1397.6 1946.1,1397.7C1949.1,1397.8 1952.1,1397.9 1955.1,1398C1958.1,1398 1961.1,1398.1 1964.1,1398.2C1967.1,1398.3 1970.1,1398.4 1973.1,1398.5C1976.1,1398.6 1979.1,1398.7 1982.1,1398.8C1985.1,1398.8 1988.1,1398.9 1991.1,1399C1994.1,1399.1 1997.1,1399.2 2000.1,1399.3C2003.1,1399.4 2006.1,1399.5 2009.1,1399.6C2012.1,1399.7 2015.1,1399.7 2018.1,1399.8C2021.1,1399.9 2024.1,1400 2027.1,1400.1C2030.1,1400.2 2033.1,1400.3 2036.1,1400.3C2039.1,1400.4 2042.1,1400.5 2045.1,1400.6C2048.1,1400.6 2051.1,1400.7 2054.1,1400.8C2057.1,1400.8 2060.1,1400.9 2063.1,1400.9C2066.1,1401 2069.1,1401 2072.1,1401.1C2075.1,1401.1 2078.1,1401.2 2081.1,1401.2C2082.4,1401.2 2083.7,1401.2 2085,1401.3" stroke="#00FFFF" stroke-width="11.5"/>
<path class="c" d="M210,1336.8C213,1336.4 215.9,1336 218.9,1335.6C221.9,1335.3 224.9,1334.9 227.9,1334.6C230.8,1334.3 233.8,1334 236.8,1333.7C239.8,1333.4 242.8,1333.1 245.8,1332.8C248.7,1332.5 251.7,1332.2 254.7,1332C257.7,1331.7 260.7,1331.5 263.7,1331.2C266.7,1331 269.7,1330.7 272.7,1330.5C275.6,1330.2 278.6,1330 281.6,1329.8C284.6,1329.5 287.6,1329.3 290.6,1329C293.6,1328.8 296.6,1328.6 299.6,1328.3C302.6,1328.1 305.5,1327.8 308.5,1327.6C311.5,1327.3 314.5,1327.1 317.5,1326.8C320.5,1326.5 323.5,1326.2 326.5,1325.9C329.5,1325.6 332.4,1325.3 335.4,1325C338.4,1324.7 341.4,1324.4 344.4,1324C347.4,1323.7 350.3,1323.3 353.3,1323C356.3,1322.6 359.3,1322.2 362.2,1321.8C365.2,1321.3 368.2,1320.9 371.2,1320.4C374.1,1320 377.1,1319.5 380,1319C383,1318.5 386,1318 388.9,1317.4C391.9,1316.8 394.8,1316.3 397.8,1315.6C400.7,1315 403.6,1314.4 406.6,1313.7C409.5,1313.1 412.4,1312.4 415.3,1311.6C418.3,1310.9 421.2,1310.1 424.1,1309.3C427,1308.5 429.9,1307.7 432.8,1306.8C435.6,1306 438.5,1305.1 441.4,1304.2C444.2,1303.3 447.1,1302.3 449.9,1301.3C452.8,1300.3 455.6,1299.3 458.5,1298.3C461.3,1297.2 464.1,1296.2 466.9,1295C469.7,1293.9 472.5,1292.8 475.3,1291.6C478,1290.5 480.8,1289.3 483.6,1288.1C486.3,1286.8 489.1,1285.6 491.8,1284.3C494.5,1283 497.2,1281.7 499.9,1280.4C502.6,1279 505.3,1277.7 508,1276.3C510.7,1274.9 513.4,1273.5 516,1272C518.6,1270.6 521.3,1269.1 523.9,1267.6C526.5,1266.2 529.1,1264.6 531.7,1263.1C534.3,1261.6 536.9,1260 539.5,1258.4C542,1256.8 544.6,1255.2 547.1,1253.6C549.6,1251.9 552.2,1250.3 554.7,1248.6C557.2,1246.9 559.7,1245.2 562.1,1243.5C564.6,1241.7 567.1,1240 569.5,1238.2C572,1236.5 574.4,1234.7 576.8,1232.9C579.2,1231.1 581.7,1229.2 584,1227.4C586.4,1225.6 588.8,1223.7 591.2,1221.8C593.5,1219.9 595.9,1218 598.2,1216.1C600.5,1214.2 602.9,1212.3 605.2,1210.3C607.5,1208.4 609.7,1206.4 612,1204.4C614.3,1202.4 616.6,1200.4 618.8,1198.4C621.1,1196.4 623.3,1194.4 625.5,1192.4C627.8,1190.3 630,1188.3 632.2,1186.2C634.4,1184.2 636.6,1182.1 638.7,1180C640.9,1177.9 643.1,1175.8 645.3,1173.7C647.4,1171.6 649.6,1169.5 651.7,1167.4C653.8,1165.3 656,1163.1 658.1,1161C660.2,1158.8 662.3,1156.7 664.4,1154.5C666.5,1152.4 668.6,1150.2 670.7,1148C672.7,1145.8 674.8,1143.6 676.9,1141.4C678.9,1139.2 681,1137 683,1134.8C685.1,1132.6 687.1,1130.4 689.2,1128.2C691.2,1126 693.2,1123.7 695.2,1121.5C697.2,1119.3 699.3,1117 701.3,1114.8C703.3,1112.5 705.3,1110.3 707.2,1108C709.2,1105.7 711.2,1103.5 713.2,1101.2C715.2,1098.9 717.1,1096.7 719.1,1094.4C721.1,1092.1 723,1089.8 725,1087.5C726.9,1085.2 728.9,1082.9 730.8,1080.6C732.7,1078.3 734.7,1076 736.6,1073.7C738.5,1071.4 740.4,1069 742.3,1066.7C744.2,1064.3 746.1,1062 748,1059.6C749.9,1057.2 751.7,1054.8 753.6,1052.4C755.4,1050 757.2,1047.6 759.1,1045.2C760.9,1042.8 762.7,1040.3 764.4,1037.9C766.2,1035.4 768,1032.9 769.7,1030.5C771.4,1028 773.2,1025.5 774.9,1023C776.6,1020.4 778.2,1017.9 779.9,1015.4C781.6,1012.8 783.2,1010.3 784.8,1007.7C786.4,1005.1 788,1002.5 789.6,999.9C791.2,997.3 792.7,994.7 794.3,992.1C795.8,989.4 797.3,986.8 798.8,984.2C800.3,981.5 801.8,978.8 803.2,976.2C804.7,973.5 806.1,970.8 807.5,968.1C808.9,965.4 810.3,962.7 811.7,960C813.1,957.3 814.4,954.6 815.8,951.9C817.1,949.1 818.4,946.4 819.7,943.6C821,940.9 822.3,938.1 823.6,935.4C824.8,932.6 826.1,929.9 827.3,927.1C828.6,924.3 829.8,921.5 831,918.7C832.2,916 833.4,913.2 834.6,910.4C835.8,907.6 836.9,904.8 838.1,902C839.2,899.2 840.4,896.4 841.5,893.6C842.7,890.8 843.8,887.9 844.9,885.1C846,882.3 847.1,879.5 848.2,876.7C849.3,873.8 850.4,871 851.4,868.2C852.5,865.3 853.6,862.5 854.6,859.7C855.7,856.8 856.7,854 857.7,851.1C858.8,848.3 859.8,845.5 860.8,842.6C861.8,839.8 862.8,836.9 863.8,834.1C864.8,831.2 865.8,828.3 866.8,825.5C867.8,822.6 868.7,819.8 869.7,816.9C870.7,814 871.6,811.2 872.6,808.3C873.6,805.5 874.5,802.6 875.4,799.7C876.4,796.9 877.3,794 878.3,791.1C879.2,788.3 880.1,785.4 881.1,782.5C882,779.7 882.9,776.8 883.8,773.9C884.7,771.1 885.6,768.2 886.6,765.3C887.5,762.5 888.4,759.6 889.3,756.7C890.2,753.8 891.1,751 892,748.1C892.9,745.2 893.8,742.4 894.7,739.5C895.6,736.6 896.5,733.8 897.4,730.9C898.3,728 899.2,725.2 900.1,722.3C901,719.5 901.9,716.6 902.7,713.7C903.6,710.9 904.5,708 905.4,705.1C906.3,702.3 907.2,699.4 908.1,696.6C909,693.7 909.9,690.8 910.8,688C911.7,685.1 912.6,682.3 913.5,679.4C914.4,676.6 915.3,673.7 916.2,670.9C917.1,668.1 918,665.2 919,662.4C919.9,659.6 920.8,656.7 921.8,653.9C922.7,651.1 923.6,648.3 924.6,645.5C925.6,642.7 926.5,639.9 927.5,637.1C928.5,634.3 929.5,631.5 930.5,628.7C931.5,626 932.5,623.2 933.6,620.5C934.6,617.7 935.7,614.9 936.8,612.2C937.9,609.4 938.9,606.6 940,603.8C941.1,601 942.2,598.2 943.3,595.4C944.4,592.6 945.5,589.7 946.6,586.9C947.6,584 948.7,581.1 949.7,578.3C950.7,575.4 951.7,572.5 952.7,569.6C953.7,566.7 954.7,563.8 955.6,560.9C956.6,558 957.5,555.1 958.4,552.2C959.4,549.3 960.3,546.4 961.2,543.6C962.1,540.7 963,537.8 963.9,534.9C964.8,532.1 965.7,529.2 966.6,526.4C967.5,523.5 968.4,520.7 969.3,517.8C970.2,515 971.1,512.1 972,509.3C972.9,506.5 973.8,503.7 974.8,500.9C975.7,498.1 976.6,495.3 977.6,492.5C978.6,489.7 979.5,487 980.6,484.2C981.5,481.6 982.6,479 983.6,476.3C986.9,467.9 989.9,459.4 993.7,451.2L999.9,438.6L1008.5,426.1L1019.8,416L1031.1,406L1041.1,403.5L1051.2,404L1061.2,409.8L1071.3,416L1081.3,424.8L1091.4,434.9L1100.2,444.9L1103.4,447.4L1109,441.1L1115.2,447.4L1121.5,458.7L1129.1,466.3L1139.1,476.3L1147.9,486.4L1156.7,493.9L1166.7,498.4L1176.8,500.2L1188.1,500.7L1196.9,497.7L1204.4,491.4L1214.5,485.1L1224.5,473.8L1234.6,461.2L1242.1,446.2L1249.6,431.1L1257.2,413.5L1264.7,395.9L1272.2,380.9L1279.8,370.8L1281,360.8L1286.1,340.7L1293.6,328.1L1301.1,313L1305.2,304L1310.2,287.9L1316.9,271.2L1323.6,254.4L1330.3,237.7L1337,220.9L1343.7,204.2L1349.6,187.4L1353.8,177.4L1360.5,169L1368.8,167.4L1371.4,154L1374.7,137.2L1377.2,133.9L1383.9,142.2L1386.4,128.8L1388.9,112.1L1390.6,100.4L1394,92L1398.1,87L1402.3,95.4L1405.7,102L1410.7,95.4L1415.7,83.6L1420.7,70.2L1424.9,58.5L1428.3,51.8L1435,55.2L1438.3,73.6L1441.7,90.3L1445.9,87L1450.9,75.3L1457.6,66L1463.4,75.3L1468.5,85.3L1472.6,93.7L1476,107.1L1480.2,120.5L1486.9,132.2L1491.1,154L1494.4,170.7L1497.8,187.4C1498.4,190.6 1499,193.8 1499.6,197C1500.2,199.9 1500.8,202.8 1501.4,205.8C1502,208.7 1502.6,211.7 1503.2,214.6C1503.8,217.6 1504.4,220.6 1505,223.5C1505.6,226.5 1506.2,229.5 1506.8,232.5C1507.4,235.4 1507.9,238.4 1508.5,241.4C1509.1,244.4 1509.6,247.4 1510.2,250.4C1510.7,253.4 1511.3,256.4 1511.8,259.4C1512.4,262.4 1512.9,265.4 1513.4,268.4C1513.9,271.4 1514.4,274.4 1514.9,277.4C1515.4,280.5 1515.9,283.5 1516.4,286.6C1516.9,289.7 1517.4,292.9 1517.9,296.1C1518.4,299.4 1518.9,302.6 1519.4,305.9C1519.9,309.3 1520.4,312.7 1520.9,316.1C1521.4,319.5 1521.9,323 1522.4,326.5C1522.9,330 1523.4,333.6 1523.9,337.1C1524.4,340.8 1524.9,344.4 1525.4,348C1525.9,351.7 1526.4,355.4 1526.9,359.1C1527.4,362.9 1527.9,366.7 1528.4,370.4C1528.9,374.2 1529.4,378 1529.9,381.9C1530.4,385.7 1530.9,389.6 1531.4,393.4C1531.9,397.3 1532.4,401.2 1532.9,405.1C1533.4,409 1533.9,412.9 1534.4,416.8C1534.9,420.8 1535.4,424.7 1535.9,428.6C1536.4,432.6 1536.9,436.5 1537.4,440.5C1537.9,444.4 1538.4,448.3 1538.9,452.3C1539.4,456.2 1539.9,460.2 1540.4,464.1C1540.9,468 1541.4,471.9 1541.9,475.9C1542.4,479.8 1542.9,483.7 1543.4,487.6C1543.9,491.4 1544.4,495.3 1544.9,499.2C1545.4,503 1545.9,506.9 1546.4,510.7C1546.9,514.5 1547.4,518.4 1547.9,522.2C1548.4,526 1548.9,529.8 1549.4,533.6C1549.9,537.4 1550.4,541.2 1550.9,544.9C1551.4,548.7 1551.9,552.5 1552.4,556.2C1552.9,560 1553.4,563.7 1553.9,567.4C1554.4,571.1 1554.9,574.9 1555.4,578.6C1555.9,582.3 1556.4,586 1556.9,589.7C1557.4,593.4 1557.9,597 1558.4,600.7C1558.9,604.4 1559.4,608.1 1559.9,611.7C1560.4,615.4 1560.9,619 1561.4,622.7C1561.9,626.3 1562.4,629.9 1562.9,633.6C1563.4,637.2 1563.9,640.8 1564.4,644.4C1564.9,648 1565.4,651.6 1565.9,655.2C1566.4,658.8 1566.9,662.4 1567.4,666C1567.9,669.6 1568.4,673.2 1568.9,676.8C1569.4,680.3 1569.9,683.9 1570.4,687.5C1570.9,691 1571.4,694.6 1571.9,698.2C1572.4,701.7 1572.9,705.3 1573.4,708.8C1573.9,712.3 1574.4,715.9 1574.9,719.4C1575.4,723 1575.9,726.5 1576.4,730C1576.9,733.6 1577.4,737.1 1577.9,740.6C1578.4,744.1 1578.9,747.7 1579.4,751.2C1579.9,754.7 1580.4,758.2 1580.9,761.7C1581.4,765.2 1581.9,768.7 1582.4,772.2C1582.9,775.7 1583.4,779.2 1583.9,782.7C1584.4,786.2 1584.9,789.7 1585.4,793.2C1585.9,796.6 1586.4,800.1 1586.9,803.5C1587.4,807 1587.9,810.4 1588.4,813.9C1588.9,817.3 1589.4,820.7 1589.9,824.1C1590.4,827.5 1590.9,830.9 1591.4,834.3C1591.9,837.7 1592.4,841 1592.9,844.4C1593.4,847.7 1593.9,851 1594.4,854.3C1594.9,857.6 1595.4,860.9 1595.9,864.2C1596.4,867.5 1596.9,870.7 1597.4,874C1597.9,877.2 1598.4,880.4 1598.9,883.6C1599.4,886.8 1599.9,889.9 1600.4,893.1C1600.9,896.2 1601.4,899.3 1601.9,902.4C1602.4,905.5 1602.9,908.5 1603.4,911.6C1603.9,914.6 1604.4,917.6 1604.9,920.6C1605.4,923.6 1605.9,926.5 1606.4,929.5C1606.9,932.4 1607.4,935.3 1608,938.2C1608.5,941.2 1609,944.1 1609.5,947C1610,949.9 1610.6,952.8 1611.1,955.7C1611.6,958.7 1612.2,961.6 1612.7,964.5C1613.3,967.4 1613.8,970.3 1614.4,973.2C1615,976.1 1615.5,979 1616.1,981.8C1616.7,984.7 1617.3,987.6 1617.9,990.5C1618.5,993.4 1619.2,996.2 1619.8,999.1C1620.4,1001.9 1621.1,1004.8 1621.7,1007.7C1622.4,1010.5 1623.1,1013.4 1623.8,1016.2C1624.5,1019 1625.2,1021.9 1625.9,1024.7C1626.7,1027.6 1627.4,1030.4 1628.2,1033.3C1628.9,1036.1 1629.7,1039 1630.5,1041.8C1631.3,1044.6 1632.1,1047.5 1632.9,1050.3C1633.8,1053.2 1634.6,1056 1635.4,1058.9C1636.3,1061.8 1637.1,1064.6 1637.9,1067.5C1638.8,1070.4 1639.6,1073.3 1640.5,1076.1C1641.3,1079 1642.2,1081.9 1643,1084.8C1643.8,1087.8 1644.7,1090.7 1645.5,1093.6C1646.3,1096.5 1647.1,1099.5 1647.9,1102.4C1648.7,1105.4 1649.5,1108.3 1650.3,1111.2C1651,1114.1 1651.8,1117.1 1652.6,1120C1653.3,1122.9 1654.1,1125.8 1654.8,1128.7C1655.6,1131.6 1656.4,1134.4 1657.1,1137.3C1657.9,1140.2 1658.7,1143 1659.5,1145.9C1660.2,1148.7 1661,1151.5 1661.9,1154.4C1662.7,1157.2 1663.5,1160 1664.4,1162.8C1665.2,1165.6 1666.1,1168.4 1667,1171.2C1667.9,1173.9 1668.8,1176.7 1669.7,1179.5C1670.7,1182.2 1671.7,1185 1672.7,1187.7C1673.7,1190.5 1674.7,1193.2 1675.8,1195.9C1676.8,1198.6 1677.9,1201.3 1679,1204C1680.2,1206.7 1681.3,1209.3 1682.5,1212C1683.7,1214.6 1684.9,1217.3 1686.2,1219.9C1687.5,1222.5 1688.8,1225.1 1690.1,1227.7C1691.5,1230.3 1692.9,1232.8 1694.3,1235.4C1695.7,1237.9 1697.2,1240.5 1698.7,1243C1700.2,1245.5 1701.8,1248 1703.4,1250.5C1704.9,1252.9 1706.6,1255.4 1708.2,1257.9C1709.8,1260.3 1711.5,1262.7 1713.2,1265.1C1714.9,1267.5 1716.6,1269.9 1718.4,1272.3C1720.2,1274.6 1722,1277 1723.8,1279.3C1725.6,1281.6 1727.5,1283.8 1729.4,1286.1C1731.3,1288.3 1733.3,1290.5 1735.2,1292.7C1737.2,1294.9 1739.2,1297 1741.3,1299.1C1743.4,1301.2 1745.5,1303.3 1747.6,1305.3C1749.7,1307.3 1751.9,1309.3 1754.2,1311.2C1756.4,1313.2 1758.6,1315 1760.9,1316.9C1763.3,1318.7 1765.6,1320.5 1768,1322.2C1770.4,1324 1772.8,1325.7 1775.3,1327.3C1777.7,1328.9 1780.2,1330.5 1782.8,1332C1785.3,1333.5 1787.9,1335 1790.5,1336.4C1793.1,1337.8 1795.8,1339.2 1798.4,1340.5C1801.1,1341.8 1803.8,1343 1806.5,1344.2C1809.2,1345.4 1812,1346.6 1814.7,1347.7C1817.5,1348.8 1820.3,1349.8 1823.1,1350.9C1825.9,1351.9 1828.7,1352.9 1831.5,1353.9C1834.4,1354.8 1837.2,1355.8 1840.1,1356.7C1842.9,1357.6 1845.8,1358.5 1848.6,1359.4C1851.5,1360.3 1854.3,1361.1 1857.2,1362C1860.1,1362.8 1863,1363.6 1865.9,1364.4C1868.8,1365.2 1871.6,1366 1874.5,1366.7C1877.4,1367.5 1880.3,1368.2 1883.3,1368.9C1886.2,1369.6 1889.1,1370.3 1892,1371C1894.9,1371.7 1897.8,1372.3 1900.8,1373C1903.7,1373.6 1906.6,1374.2 1909.6,1374.8C1912.5,1375.4 1915.4,1376 1918.4,1376.5C1921.3,1377.1 1924.3,1377.6 1927.2,1378.2C1930.2,1378.7 1933.1,1379.2 1936.1,1379.7C1939,1380.2 1942,1380.7 1945,1381.1C1947.9,1381.6 1950.9,1382 1953.9,1382.5C1956.8,1382.9 1959.8,1383.3 1962.8,1383.7C1965.7,1384.1 1968.7,1384.5 1971.7,1384.9C1974.7,1385.3 1977.6,1385.6 1980.6,1386C1983.6,1386.4 1986.6,1386.7 1989.5,1387C1992.5,1387.4 1995.5,1387.7 1998.5,1388C2001.5,1388.3 2004.5,1388.6 2007.4,1388.9C2010.4,1389.2 2013.4,1389.5 2016.4,1389.8C2019.4,1390 2022.4,1390.3 2025.4,1390.6C2028.3,1390.8 2031.3,1391.1 2034.3,1391.3C2037.3,1391.6 2040.3,1391.8 2043.3,1392.1C2046.3,1392.3 2049.3,1392.5 2052.3,1392.8C2055.3,1393 2058.3,1393.2 2061.2,1393.4C2064.2,1393.7 2067.2,1393.9 2070.2,1394.1C2073.2,1394.3 2076.2,1394.5 2079.2,1394.7C2081.1,1394.9 2083.1,1395 2085,1395.1" stroke="#008000" stroke-width="11.7"/>
</g>
<g id="annot" shape-rendering="crispEdges">
<line x1="1421.3" y1="1243.6" x2="868" y2="425.4" stroke="#000" stroke-width="11.5"/>
<polygon points="849.3,397 880.4,424 861.5,436.6" fill="#000"/>
<ellipse cx="1450.95" cy="1313.6" rx="93.7" ry="62.5" fill="none" stroke="#000" stroke-width="11.5"/>
</g>
<g id="inset">
<g fill="#000" shape-rendering="crispEdges"><rect x="293.2" y="93" width="5.800000000000011" height="633.5"/>
<rect x="830.3" y="93" width="4.900000000000091" height="633.5"/>
<rect x="296" y="90.2" width="537" height="5.799999999999997"/>
<rect x="293.2" y="701.1" width="542.0" height="4.899999999999977"/>
<rect x="401.0" y="701.1" width="5.2000000000000455" height="25.399999999999977"/>
<rect x="508.0" y="701.1" width="5.2000000000000455" height="25.399999999999977"/>
<rect x="615.8" y="701.1" width="5.2000000000000455" height="25.399999999999977"/>
<rect x="722.5" y="701.1" width="5.2000000000000455" height="25.399999999999977"/>
<rect x="347.2" y="701.1" width="5.600000000000023" height="13.699999999999932"/>
<rect x="454.2" y="701.1" width="5.600000000000023" height="13.699999999999932"/>
<rect x="561.2" y="701.1" width="5.599999999999909" height="13.699999999999932"/>
<rect x="668.6" y="701.1" width="5.599999999999909" height="13.699999999999932"/>
<rect x="776.2" y="701.1" width="5.599999999999909" height="13.699999999999932"/></g>
<g clip-path="url(#ic)" shape-rendering="crispEdges">
<path class="c" d="M294,639C302.3,639.5 310.7,640 319,640.5C325.5,640.9 332.1,641.6 338.6,641.5C345.1,641.4 351.7,641.2 358.1,640.1C364.7,639 371.4,637.1 377.7,634.7C384.5,632.1 391,628.6 397.2,624.9C404,620.9 410.5,616.1 416.7,611.2C423.6,605.8 430.1,599.8 436.3,593.6C443.2,586.8 450,579.8 455.8,572.1C463.8,561.4 469.5,549 475.4,537C478.9,529.9 482.1,522.7 485.1,515.5C488.6,507.1 491.6,498.6 494.9,490.1C498.2,481.6 501.4,473.1 504.7,464.7C507.9,456.6 510.7,448.4 514.4,440.5C517.4,434.2 520,427.5 524.2,422C527,418.2 530.3,414.5 534,411.5C537.3,408.8 541.1,406.3 545,404.5C548.9,402.7 553.3,402.1 557.4,400.6C561.3,399.2 565.6,398 569,395.7C572,393.7 574.6,390.8 577,388C582.8,381.2 584.8,371.6 588.7,363.5C591.8,357 595.4,350.6 598.2,344C603.5,331.5 606.4,318 610.3,304.9C614.1,291.9 617,278.6 621.3,265.8C624.8,255.4 628.8,245.1 633,235C635.2,229.6 637.4,224.2 640,219C642,215.1 643.4,210.5 646.5,207.5C648.2,205.9 650.5,203.2 652.3,203.3C654.2,203.4 656.1,206.6 657.5,208.5C661.1,213.4 660.6,220.6 661.9,226.7C664.6,239.6 666,252.7 667.8,265.8C669.6,278.8 671.2,291.8 672.7,304.9C674.2,317.9 675.3,331 676.6,344C677.9,357 679.2,370 680.5,383C681.8,395.3 682.6,407.7 684.4,420C685.9,430.1 688.1,440 690,450C691.9,460 694.1,470 696,480C698.5,493.3 700.3,506.7 703,520C705.7,533.4 708.5,546.8 712,560C715.5,573.5 720,586.7 724,600C726,606.7 727.9,613.4 730,620C732.2,626.7 734.3,633.5 737,640C739.9,646.9 743.5,653.4 747,660C750.5,666.7 753,674.4 758,680C761.4,683.8 765.7,687 770,690C774.4,693.1 779.1,695.8 784,698C789.1,700.3 794.6,702 800,703.6C806.5,705.5 813.3,706.5 820,708" stroke="#FF0000" stroke-width="9"/>
<path class="c" d="M294,647.4C302.3,648.3 310.7,649.3 319,650C325.5,650.5 332.1,651.5 338.6,651.3C345.1,651.1 351.6,650.1 358,649C364.6,647.8 371.4,646.6 377.7,644.4C384.5,642 390.8,638.2 397.2,634.7C403.9,631 410.5,627.2 416.7,622.9C423.6,618.2 429.9,612.7 436.3,607.3C443,601.6 450.4,596.5 455.8,589.7C459.6,584.9 462.6,579.4 465.6,574.1C469.2,567.8 472.2,561.1 475.4,554.6C478.7,548.1 482.2,541.7 485.1,535C488.9,526.1 491.5,516.8 494.9,507.7C498.1,499.2 501.5,490.8 504.7,482.3C508.1,473.2 510.9,463.9 514.4,454.9C517.5,447 520.6,439.2 524.2,431.5C527.3,424.9 530.2,418.1 534,412C536.9,407.4 539.9,402.6 543.7,398.7C546.6,395.7 550.3,393.5 553.5,390.8C558.1,387 563.1,383.4 567.2,379.1C571.6,374.4 575.5,369 578.9,363.5C582.6,357.4 585.4,350.6 588.2,344C593.5,331.4 596.8,318 600.6,304.9C604.4,292 607.8,278.9 611,265.8C614.2,252.8 616.9,239.8 619.7,226.7C622.5,213.7 624.9,200.7 627.7,187.7C630.6,174.6 632.2,161.1 636.8,148.6C638.4,144.3 640,140.1 642,136C643.5,132.9 644.6,129.4 647,127C648.5,125.5 650.6,123.1 652.3,123.2C654.2,123.3 656.1,126.6 657.5,128.5C661.6,133.9 661.4,141.8 662.9,148.6C665.8,161.4 666.9,174.6 668.7,187.7C670.5,200.7 672.1,213.7 673.6,226.7C675.1,239.7 676.2,252.8 677.5,265.8C678.8,278.8 680.1,291.9 681.4,304.9C682.7,317.9 684,331 685.3,344C686.6,357 688.1,370 689.3,383C690.4,395.3 690.4,407.8 692.2,420C693.2,426.7 694.9,433.3 696,440C698.2,453.2 699.3,466.7 701,480C702.7,493.3 704,506.7 706,520C708,533.4 710.3,546.7 713,560C715.7,573.4 718.4,586.8 722,600C723.8,606.7 725.9,613.4 728,620C730.2,626.7 732.2,633.6 735,640C738.1,646.9 741.9,653.6 746,660C749.6,665.6 752.9,672 758,676C763,679.9 769.9,681.6 776,684C781.9,686.3 787.9,688.2 794,690C799.3,691.5 804.6,693.1 810,694C817.2,695.2 824.7,694.9 832,695C834,695 836,695 838,695" stroke="#00FF00" stroke-width="9"/>
<path class="c" d="M294,644.4C302.3,645.4 310.6,646.6 319,647.4C325.5,648 332.1,648.4 338.6,648.7C345.1,649 351.6,649.5 358.1,649.3C364.6,649.1 371.2,648.5 377.7,647.4C384.3,646.3 390.9,644.8 397.2,642.5C404,640 410.3,636.2 416.7,632.7C423.4,629 429.9,625.1 436.3,621C443,616.7 449.8,612.5 455.8,607.3C463.1,601 469.7,593.6 475.4,585.8C479,580.9 482.1,575.5 485.1,570.2C488.7,563.9 491.6,557.2 494.9,550.7C498.2,544.2 501.6,537.7 504.7,531.1C508.1,524 510.8,516.6 514.4,509.6C517.4,503.6 520.3,497.5 524.2,492C527.1,487.9 530.3,483.8 534,480.3C537.5,477 541.4,473.7 545.7,471.5C549.3,469.7 553.5,468.9 557.4,467.6C561.3,466.3 565.6,465.6 569.1,463.7C573.6,461.2 577.3,456.9 580.8,453C585.5,447.8 589.3,441.6 592.6,435.4C595.2,430.5 597.2,425.2 599.4,420C601.8,414.3 603.9,408.4 606.2,402.6C608.8,396.1 611.4,389.5 614,383C616.6,376.5 619.3,370 621.9,363.5C624.5,357 627.2,350.5 629.7,344C632.2,337.5 633.9,330.7 636.8,324.4C638.4,321 640.1,317.7 642,314.5C643.6,311.8 644.8,308.6 647,306.5C648.5,305 650.7,302.8 652.4,302.9C654.3,303 656.2,306.1 657.6,308C661,312.5 661.3,318.9 662.9,324.4C664.8,330.9 666.3,337.4 667.8,344C669.3,350.5 670.6,357 671.7,363.5C672.8,370 673.5,376.5 674.6,383C675.7,389.6 677.3,396 678.5,402.6C679.6,408.4 680.4,414.2 681.4,420C682.6,426.7 683.9,433.3 685,440C687.3,453.3 689,466.7 691,480C693,493.3 694.7,506.7 697,520C699.3,533.4 702.2,546.7 705,560C707.8,573.4 710.8,586.7 714,600C715.6,606.7 717,613.4 719,620C721,626.8 723.4,633.4 726,640C728.7,646.8 731.7,653.5 735,660C738.4,666.8 741.4,674.1 746,680C749.5,684.4 753.6,688.5 758,692C761.7,695 765.7,697.8 770,700C773.2,701.6 776.6,702.8 780,704C786.5,706.4 793.3,708 800,710" stroke="#FF00FF" stroke-width="9"/>
</g></g>
<g id="legend">
<rect x="1639" y="133.9" width="173" height="11.5" fill="#008000" shape-rendering="crispEdges"/>
<text class="leg" transform="translate(1830.6,163.0) scale(0.953,1)" stroke="#000" stroke-width="0.9" stroke-linejoin="round">MB</text>
<rect x="1639" y="217.5" width="173" height="11.5" fill="#000" shape-rendering="crispEdges"/>
<text class="leg" transform="translate(1830.6,246.6) scale(0.953,1)" stroke="#000" stroke-width="0.9" stroke-linejoin="round">NS</text>
<rect x="1639" y="301.1" width="173" height="11.5" fill="#0000FF" shape-rendering="crispEdges"/>
<text class="leg" transform="translate(1830.6,330.2) scale(0.953,1)" stroke="#000" stroke-width="0.9" stroke-linejoin="round">NS-1</text>
<rect x="1639" y="384.8" width="173" height="11.5" fill="#00FFFF" shape-rendering="crispEdges"/>
<text class="leg" transform="translate(1830.6,413.8) scale(0.953,1)" stroke="#000" stroke-width="0.9" stroke-linejoin="round">MNS-3</text>
<rect x="1639" y="468.3" width="173" height="11.5" fill="#00FF00" shape-rendering="crispEdges"/>
<text class="leg" transform="translate(1830.6,497.4) scale(0.953,1)" stroke="#000" stroke-width="0.9" stroke-linejoin="round">MNS-2</text>
<rect x="1639" y="552.0" width="173" height="11.5" fill="#FF0000" shape-rendering="crispEdges"/>
<text class="leg" transform="translate(1830.6,581.0) scale(0.953,1)" stroke="#000" stroke-width="0.9" stroke-linejoin="round">MNS-1</text>
<rect x="1639" y="635.5" width="173" height="11.5" fill="#FF00FF" shape-rendering="crispEdges"/>
<text class="leg" transform="translate(1830.6,664.6) scale(0.953,1)" stroke="#000" stroke-width="0.9" stroke-linejoin="round">MNS-4</text>
</g>
<g id="ticklabels">
<text class="tick" transform="translate(217.5,1558.2) scale(0.938,1)" stroke="#000" stroke-width="0.9" stroke-linejoin="round">500</text>
<text class="tick" transform="translate(588.5,1558.2) scale(0.938,1)" stroke="#000" stroke-width="0.9" stroke-linejoin="round">550</text>
<text class="tick" transform="translate(959.5,1558.2) scale(0.938,1)" stroke="#000" stroke-width="0.9" stroke-linejoin="round">600</text>
<text class="tick" transform="translate(1330,1558.2) scale(0.938,1)" stroke="#000" stroke-width="0.9" stroke-linejoin="round">650</text>
<text class="tick" transform="translate(1701.5,1558.2) scale(0.938,1)" stroke="#000" stroke-width="0.9" stroke-linejoin="round">700</text>
<text class="tick" transform="translate(2073,1558.2) scale(0.938,1)" stroke="#000" stroke-width="0.9" stroke-linejoin="round">750</text>
</g>
<text class="title" transform="translate(1147.3,1665.2) scale(1.004,1)" stroke="#000" stroke-width="0.9" stroke-linejoin="round">Wavelength (nm)</text>
<text class="ytitle" transform="translate(86,803) rotate(-90)" stroke="#000" stroke-width="0.9" stroke-linejoin="round">Absorbance</text>
</svg>
</body>
</html>
